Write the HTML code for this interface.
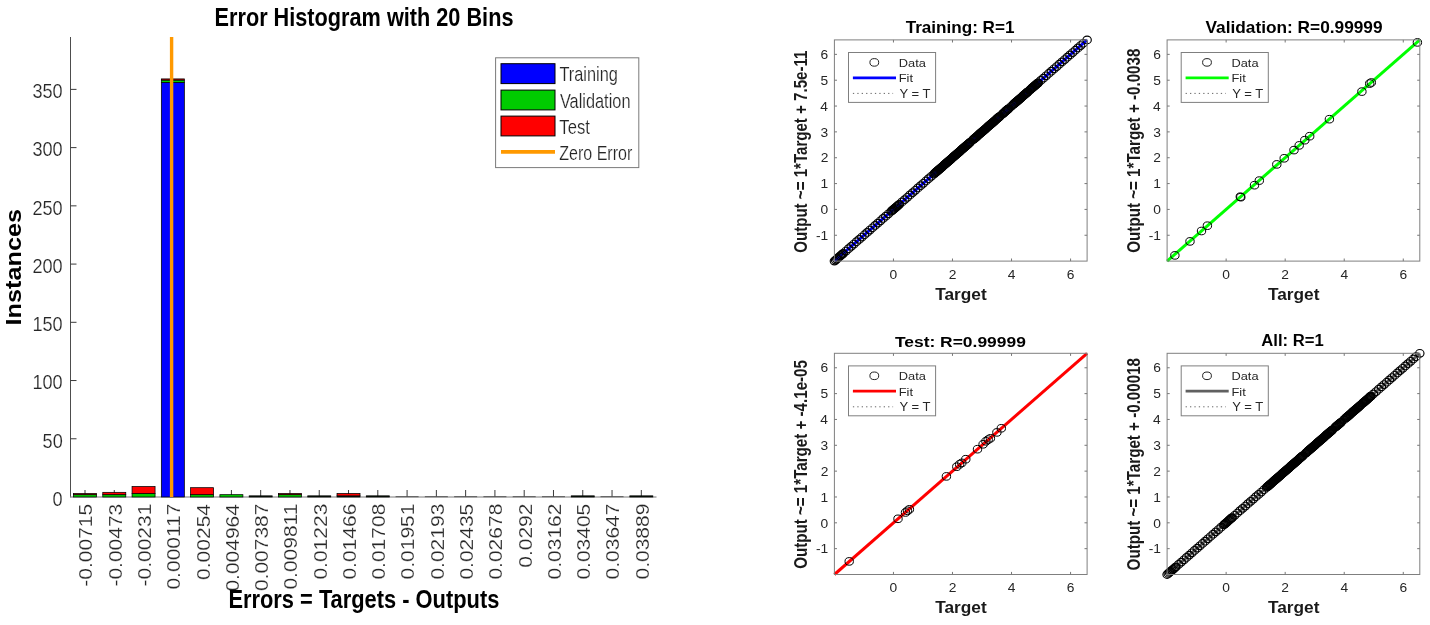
<!DOCTYPE html>
<html><head><meta charset="utf-8"><style>
html,body{margin:0;padding:0;background:#fff;}
svg{display:block;will-change:transform;}
text{font-family:"Liberation Sans", sans-serif;}
</style></head><body>
<svg width="1430" height="625" viewBox="0 0 1430 625">
<rect width="1430" height="625" fill="#fff"/>
<line x1="70.5" y1="37" x2="70.5" y2="497.5" stroke="#4d4d4d" stroke-width="1"/>
<line x1="70.5" y1="497" x2="656.5" y2="497" stroke="#a6a6a6" stroke-width="1.6"/>
<line x1="70.5" y1="438.77" x2="76.5" y2="438.77" stroke="#3a3a3a" stroke-width="1"/>
<line x1="70.5" y1="380.54" x2="76.5" y2="380.54" stroke="#3a3a3a" stroke-width="1"/>
<line x1="70.5" y1="322.31" x2="76.5" y2="322.31" stroke="#3a3a3a" stroke-width="1"/>
<line x1="70.5" y1="264.08" x2="76.5" y2="264.08" stroke="#3a3a3a" stroke-width="1"/>
<line x1="70.5" y1="205.85" x2="76.5" y2="205.85" stroke="#3a3a3a" stroke-width="1"/>
<line x1="70.5" y1="147.62" x2="76.5" y2="147.62" stroke="#3a3a3a" stroke-width="1"/>
<line x1="70.5" y1="89.39" x2="76.5" y2="89.39" stroke="#3a3a3a" stroke-width="1"/>
<line x1="85" y1="497" x2="85" y2="490" stroke="#3a3a3a" stroke-width="1"/>
<line x1="114.28" y1="497" x2="114.28" y2="490" stroke="#3a3a3a" stroke-width="1"/>
<line x1="143.56" y1="497" x2="143.56" y2="490" stroke="#3a3a3a" stroke-width="1"/>
<line x1="172.84" y1="497" x2="172.84" y2="490" stroke="#3a3a3a" stroke-width="1"/>
<line x1="202.12" y1="497" x2="202.12" y2="490" stroke="#3a3a3a" stroke-width="1"/>
<line x1="231.4" y1="497" x2="231.4" y2="490" stroke="#3a3a3a" stroke-width="1"/>
<line x1="260.68" y1="497" x2="260.68" y2="490" stroke="#3a3a3a" stroke-width="1"/>
<line x1="289.96" y1="497" x2="289.96" y2="490" stroke="#3a3a3a" stroke-width="1"/>
<line x1="319.24" y1="497" x2="319.24" y2="490" stroke="#3a3a3a" stroke-width="1"/>
<line x1="348.52" y1="497" x2="348.52" y2="490" stroke="#3a3a3a" stroke-width="1"/>
<line x1="377.8" y1="497" x2="377.8" y2="490" stroke="#3a3a3a" stroke-width="1"/>
<line x1="407.08" y1="497" x2="407.08" y2="490" stroke="#3a3a3a" stroke-width="1"/>
<line x1="436.36" y1="497" x2="436.36" y2="490" stroke="#3a3a3a" stroke-width="1"/>
<line x1="465.64" y1="497" x2="465.64" y2="490" stroke="#3a3a3a" stroke-width="1"/>
<line x1="494.92" y1="497" x2="494.92" y2="490" stroke="#3a3a3a" stroke-width="1"/>
<line x1="524.2" y1="497" x2="524.2" y2="490" stroke="#3a3a3a" stroke-width="1"/>
<line x1="553.48" y1="497" x2="553.48" y2="490" stroke="#3a3a3a" stroke-width="1"/>
<line x1="582.76" y1="497" x2="582.76" y2="490" stroke="#3a3a3a" stroke-width="1"/>
<line x1="612.04" y1="497" x2="612.04" y2="490" stroke="#3a3a3a" stroke-width="1"/>
<line x1="641.32" y1="497" x2="641.32" y2="490" stroke="#3a3a3a" stroke-width="1"/>
<rect x="73.5" y="494.67" width="23" height="2.33" fill="#00cc00" stroke="#000" stroke-width="0.75"/>
<rect x="73.5" y="493.51" width="23" height="1.16" fill="#ff0000" stroke="#000" stroke-width="0.75"/>
<rect x="102.78" y="494.67" width="23" height="2.33" fill="#00cc00" stroke="#000" stroke-width="0.75"/>
<rect x="102.78" y="492.34" width="23" height="2.33" fill="#ff0000" stroke="#000" stroke-width="0.75"/>
<rect x="132.06" y="493.51" width="23" height="3.49" fill="#00cc00" stroke="#000" stroke-width="0.75"/>
<rect x="132.06" y="486.52" width="23" height="6.99" fill="#ff0000" stroke="#000" stroke-width="0.75"/>
<rect x="161.34" y="82.4" width="23" height="414.6" fill="#0000ff" stroke="#000" stroke-width="0.75"/>
<rect x="161.34" y="80.07" width="23" height="2.33" fill="#00cc00" stroke="#000" stroke-width="0.75"/>
<rect x="161.34" y="78.91" width="23" height="1.16" fill="#ff0000" stroke="#000" stroke-width="0.75"/>
<rect x="190.62" y="494.67" width="23" height="2.33" fill="#00cc00" stroke="#000" stroke-width="0.75"/>
<rect x="190.62" y="487.68" width="23" height="6.99" fill="#ff0000" stroke="#000" stroke-width="0.75"/>
<rect x="219.9" y="494.67" width="23" height="2.33" fill="#00cc00" stroke="#000" stroke-width="0.75"/>
<rect x="249.18" y="495.84" width="23" height="1.16" fill="#0b1f0b" stroke="#000" stroke-width="0.75"/>
<rect x="278.46" y="494.67" width="23" height="2.33" fill="#00cc00" stroke="#000" stroke-width="0.75"/>
<rect x="278.46" y="493.51" width="23" height="1.16" fill="#ff0000" stroke="#000" stroke-width="0.75"/>
<rect x="307.74" y="495.84" width="23" height="1.16" fill="#0b1f0b" stroke="#000" stroke-width="0.75"/>
<rect x="337.02" y="495.84" width="23" height="1.16" fill="#0b1f0b" stroke="#000" stroke-width="0.75"/>
<rect x="337.02" y="493.51" width="23" height="2.33" fill="#ff0000" stroke="#000" stroke-width="0.75"/>
<rect x="366.3" y="495.84" width="23" height="1.16" fill="#0b1f0b" stroke="#000" stroke-width="0.75"/>
<line x1="395.58" y1="496.7" x2="418.58" y2="496.7" stroke="#555" stroke-width="1"/>
<line x1="424.86" y1="496.7" x2="447.86" y2="496.7" stroke="#555" stroke-width="1"/>
<line x1="454.14" y1="496.7" x2="477.14" y2="496.7" stroke="#555" stroke-width="1"/>
<line x1="483.42" y1="496.7" x2="506.42" y2="496.7" stroke="#555" stroke-width="1"/>
<line x1="512.7" y1="496.7" x2="535.7" y2="496.7" stroke="#555" stroke-width="1"/>
<line x1="541.98" y1="496.7" x2="564.98" y2="496.7" stroke="#555" stroke-width="1"/>
<rect x="571.26" y="495.84" width="23" height="1.16" fill="#0b1f0b" stroke="#000" stroke-width="0.75"/>
<line x1="600.54" y1="496.7" x2="623.54" y2="496.7" stroke="#555" stroke-width="1"/>
<rect x="629.82" y="495.84" width="23" height="1.16" fill="#0b1f0b" stroke="#000" stroke-width="0.75"/>
<line x1="171.6" y1="37" x2="171.6" y2="497" stroke="#ff9900" stroke-width="3.4"/>
<text transform="translate(52.62,505.78) scale(0.88,1)" font-size="20.6" font-weight="normal" fill="#262626" stroke="#fff" stroke-width="0.2">0</text>
<text transform="translate(42.56,447.55) scale(0.88,1)" font-size="20.6" font-weight="normal" fill="#262626" stroke="#fff" stroke-width="0.2">50</text>
<text transform="translate(32.45,389.32) scale(0.88,1)" font-size="20.6" font-weight="normal" fill="#262626" stroke="#fff" stroke-width="0.2">100</text>
<text transform="translate(32.45,331.09) scale(0.88,1)" font-size="20.6" font-weight="normal" fill="#262626" stroke="#fff" stroke-width="0.2">150</text>
<text transform="translate(32.45,272.86) scale(0.88,1)" font-size="20.6" font-weight="normal" fill="#262626" stroke="#fff" stroke-width="0.2">200</text>
<text transform="translate(32.45,214.63) scale(0.88,1)" font-size="20.6" font-weight="normal" fill="#262626" stroke="#fff" stroke-width="0.2">250</text>
<text transform="translate(32.45,156.4) scale(0.88,1)" font-size="20.6" font-weight="normal" fill="#262626" stroke="#fff" stroke-width="0.2">300</text>
<text transform="translate(32.45,98.17) scale(0.88,1)" font-size="20.6" font-weight="normal" fill="#262626" stroke="#fff" stroke-width="0.2">350</text>
<text transform="translate(92.4,586.66) rotate(-90) scale(1,0.87)" font-size="21" font-weight="normal" fill="#262626" stroke="#fff" stroke-width="0.23">-0.00715</text>
<text transform="translate(121.68,586.61) rotate(-90) scale(1,0.87)" font-size="21" font-weight="normal" fill="#262626" stroke="#fff" stroke-width="0.23">-0.00473</text>
<text transform="translate(150.96,586.5) rotate(-90) scale(1,0.87)" font-size="21" font-weight="normal" fill="#262626" stroke="#fff" stroke-width="0.23">-0.00231</text>
<text transform="translate(180.24,589.55) rotate(-90) scale(1,0.87)" font-size="21" font-weight="normal" fill="#262626" stroke="#fff" stroke-width="0.23">0.000117</text>
<text transform="translate(209.52,579.88) rotate(-90) scale(1,0.87)" font-size="21" font-weight="normal" fill="#262626" stroke="#fff" stroke-width="0.23">0.00254</text>
<text transform="translate(238.8,591.59) rotate(-90) scale(1,0.87)" font-size="21" font-weight="normal" fill="#262626" stroke="#fff" stroke-width="0.23">0.004964</text>
<text transform="translate(268.08,591.12) rotate(-90) scale(1,0.87)" font-size="21" font-weight="normal" fill="#262626" stroke="#fff" stroke-width="0.23">0.007387</text>
<text transform="translate(297.36,589.6) rotate(-90) scale(1,0.87)" font-size="21" font-weight="normal" fill="#262626" stroke="#fff" stroke-width="0.23">0.009811</text>
<text transform="translate(326.64,579.57) rotate(-90) scale(1,0.87)" font-size="21" font-weight="normal" fill="#262626" stroke="#fff" stroke-width="0.23">0.01223</text>
<text transform="translate(355.92,579.57) rotate(-90) scale(1,0.87)" font-size="21" font-weight="normal" fill="#262626" stroke="#fff" stroke-width="0.23">0.01466</text>
<text transform="translate(385.2,579.57) rotate(-90) scale(1,0.87)" font-size="21" font-weight="normal" fill="#262626" stroke="#fff" stroke-width="0.23">0.01708</text>
<text transform="translate(414.48,579.47) rotate(-90) scale(1,0.87)" font-size="21" font-weight="normal" fill="#262626" stroke="#fff" stroke-width="0.23">0.01951</text>
<text transform="translate(443.76,579.57) rotate(-90) scale(1,0.87)" font-size="21" font-weight="normal" fill="#262626" stroke="#fff" stroke-width="0.23">0.02193</text>
<text transform="translate(473.04,579.62) rotate(-90) scale(1,0.87)" font-size="21" font-weight="normal" fill="#262626" stroke="#fff" stroke-width="0.23">0.02435</text>
<text transform="translate(502.32,579.57) rotate(-90) scale(1,0.87)" font-size="21" font-weight="normal" fill="#262626" stroke="#fff" stroke-width="0.23">0.02678</text>
<text transform="translate(531.6,567.76) rotate(-90) scale(1,0.87)" font-size="21" font-weight="normal" fill="#262626" stroke="#fff" stroke-width="0.23">0.0292</text>
<text transform="translate(560.88,579.41) rotate(-90) scale(1,0.87)" font-size="21" font-weight="normal" fill="#262626" stroke="#fff" stroke-width="0.23">0.03162</text>
<text transform="translate(590.16,579.62) rotate(-90) scale(1,0.87)" font-size="21" font-weight="normal" fill="#262626" stroke="#fff" stroke-width="0.23">0.03405</text>
<text transform="translate(619.44,579.41) rotate(-90) scale(1,0.87)" font-size="21" font-weight="normal" fill="#262626" stroke="#fff" stroke-width="0.23">0.03647</text>
<text transform="translate(648.72,579.52) rotate(-90) scale(1,0.87)" font-size="21" font-weight="normal" fill="#262626" stroke="#fff" stroke-width="0.23">0.03889</text>
<text transform="translate(214.54,26.2) scale(0.82,1)" font-size="26.47" font-weight="bold" fill="#000">Error Histogram with 20 Bins</text>
<text transform="translate(228.43,608) scale(0.83,1)" font-size="26.33" font-weight="bold" fill="#000">Errors = Targets - Outputs</text>
<text transform="translate(21.4,325.51) rotate(-90) scale(1,0.89)" font-size="25.28" font-weight="bold" fill="#000">Instances</text>
<rect x="495.6" y="57.8" width="143.2" height="109.8" fill="#fff" stroke="#7a7a7a" stroke-width="1"/>
<rect x="501" y="63.7" width="54" height="19.9" fill="#0000ff" stroke="#000" stroke-width="1"/>
<rect x="501" y="90.1" width="54" height="19.8" fill="#00cc00" stroke="#000" stroke-width="1"/>
<rect x="501" y="116.1" width="54" height="19.8" fill="#ff0000" stroke="#000" stroke-width="1"/>
<line x1="501" y1="151.9" x2="555" y2="151.9" stroke="#ff9900" stroke-width="3.6"/>
<text transform="translate(559.43,81.4) scale(0.84,1)" font-size="19.49" font-weight="normal" fill="#262626" stroke="#fff" stroke-width="0.2">Training</text>
<text transform="translate(559.92,107.6) scale(0.82,1)" font-size="19.93" font-weight="normal" fill="#262626" stroke="#fff" stroke-width="0.2">Validation</text>
<text transform="translate(559.32,133.9) scale(0.83,1)" font-size="20.07" font-weight="normal" fill="#262626" stroke="#fff" stroke-width="0.2">Test</text>
<text transform="translate(559.18,159.7) scale(0.83,1)" font-size="19.35" font-weight="normal" fill="#262626" stroke="#fff" stroke-width="0.2">Zero Error</text>
<g>
<line x1="834.4" y1="261.1" x2="1087.1" y2="39.9" stroke="#0000ff" stroke-width="3" stroke-linecap="butt"/>
<ellipse cx="834.4" cy="261.1" rx="4.2" ry="3.8" fill="none" stroke="#000" stroke-width="1.15"/>
<ellipse cx="835.58" cy="260.07" rx="4.2" ry="3.8" fill="none" stroke="#000" stroke-width="1.15"/>
<ellipse cx="836.76" cy="259.03" rx="4.2" ry="3.8" fill="none" stroke="#000" stroke-width="1.15"/>
<ellipse cx="837.94" cy="258" rx="4.2" ry="3.8" fill="none" stroke="#000" stroke-width="1.15"/>
<ellipse cx="839.12" cy="256.97" rx="4.2" ry="3.8" fill="none" stroke="#000" stroke-width="1.15"/>
<ellipse cx="840.3" cy="255.93" rx="4.2" ry="3.8" fill="none" stroke="#000" stroke-width="1.15"/>
<ellipse cx="841.49" cy="254.9" rx="4.2" ry="3.8" fill="none" stroke="#000" stroke-width="1.15"/>
<ellipse cx="842.67" cy="253.86" rx="4.2" ry="3.8" fill="none" stroke="#000" stroke-width="1.15"/>
<ellipse cx="843.26" cy="253.35" rx="4.2" ry="3.8" fill="none" stroke="#000" stroke-width="1.15"/>
<ellipse cx="845.91" cy="251.02" rx="4.2" ry="3.8" fill="none" stroke="#000" stroke-width="1.15"/>
<ellipse cx="848.57" cy="248.7" rx="4.2" ry="3.8" fill="none" stroke="#000" stroke-width="1.15"/>
<ellipse cx="851.23" cy="246.37" rx="4.2" ry="3.8" fill="none" stroke="#000" stroke-width="1.15"/>
<ellipse cx="853.88" cy="244.04" rx="4.2" ry="3.8" fill="none" stroke="#000" stroke-width="1.15"/>
<ellipse cx="856.54" cy="241.72" rx="4.2" ry="3.8" fill="none" stroke="#000" stroke-width="1.15"/>
<ellipse cx="859.2" cy="239.39" rx="4.2" ry="3.8" fill="none" stroke="#000" stroke-width="1.15"/>
<ellipse cx="861.85" cy="237.07" rx="4.2" ry="3.8" fill="none" stroke="#000" stroke-width="1.15"/>
<ellipse cx="864.51" cy="234.74" rx="4.2" ry="3.8" fill="none" stroke="#000" stroke-width="1.15"/>
<ellipse cx="867.17" cy="232.42" rx="4.2" ry="3.8" fill="none" stroke="#000" stroke-width="1.15"/>
<ellipse cx="869.83" cy="230.09" rx="4.2" ry="3.8" fill="none" stroke="#000" stroke-width="1.15"/>
<ellipse cx="872.48" cy="227.76" rx="4.2" ry="3.8" fill="none" stroke="#000" stroke-width="1.15"/>
<ellipse cx="875.14" cy="225.44" rx="4.2" ry="3.8" fill="none" stroke="#000" stroke-width="1.15"/>
<ellipse cx="877.8" cy="223.11" rx="4.2" ry="3.8" fill="none" stroke="#000" stroke-width="1.15"/>
<ellipse cx="880.45" cy="220.79" rx="4.2" ry="3.8" fill="none" stroke="#000" stroke-width="1.15"/>
<ellipse cx="883.11" cy="218.46" rx="4.2" ry="3.8" fill="none" stroke="#000" stroke-width="1.15"/>
<ellipse cx="885.77" cy="216.14" rx="4.2" ry="3.8" fill="none" stroke="#000" stroke-width="1.15"/>
<ellipse cx="888.42" cy="213.81" rx="4.2" ry="3.8" fill="none" stroke="#000" stroke-width="1.15"/>
<ellipse cx="891.08" cy="211.49" rx="4.2" ry="3.8" fill="none" stroke="#000" stroke-width="1.15"/>
<ellipse cx="891.97" cy="210.71" rx="4.2" ry="3.8" fill="none" stroke="#000" stroke-width="1.15"/>
<ellipse cx="892.85" cy="209.93" rx="4.2" ry="3.8" fill="none" stroke="#000" stroke-width="1.15"/>
<ellipse cx="893.74" cy="209.16" rx="4.2" ry="3.8" fill="none" stroke="#000" stroke-width="1.15"/>
<ellipse cx="894.62" cy="208.38" rx="4.2" ry="3.8" fill="none" stroke="#000" stroke-width="1.15"/>
<ellipse cx="895.51" cy="207.61" rx="4.2" ry="3.8" fill="none" stroke="#000" stroke-width="1.15"/>
<ellipse cx="896.39" cy="206.83" rx="4.2" ry="3.8" fill="none" stroke="#000" stroke-width="1.15"/>
<ellipse cx="897.28" cy="206.06" rx="4.2" ry="3.8" fill="none" stroke="#000" stroke-width="1.15"/>
<ellipse cx="898.17" cy="205.28" rx="4.2" ry="3.8" fill="none" stroke="#000" stroke-width="1.15"/>
<ellipse cx="899.05" cy="204.51" rx="4.2" ry="3.8" fill="none" stroke="#000" stroke-width="1.15"/>
<ellipse cx="899.35" cy="204.25" rx="4.2" ry="3.8" fill="none" stroke="#000" stroke-width="1.15"/>
<ellipse cx="902" cy="201.92" rx="4.2" ry="3.8" fill="none" stroke="#000" stroke-width="1.15"/>
<ellipse cx="904.66" cy="199.6" rx="4.2" ry="3.8" fill="none" stroke="#000" stroke-width="1.15"/>
<ellipse cx="907.32" cy="197.27" rx="4.2" ry="3.8" fill="none" stroke="#000" stroke-width="1.15"/>
<ellipse cx="909.97" cy="194.95" rx="4.2" ry="3.8" fill="none" stroke="#000" stroke-width="1.15"/>
<ellipse cx="912.63" cy="192.62" rx="4.2" ry="3.8" fill="none" stroke="#000" stroke-width="1.15"/>
<ellipse cx="915.29" cy="190.3" rx="4.2" ry="3.8" fill="none" stroke="#000" stroke-width="1.15"/>
<ellipse cx="917.94" cy="187.97" rx="4.2" ry="3.8" fill="none" stroke="#000" stroke-width="1.15"/>
<ellipse cx="920.6" cy="185.64" rx="4.2" ry="3.8" fill="none" stroke="#000" stroke-width="1.15"/>
<ellipse cx="923.26" cy="183.32" rx="4.2" ry="3.8" fill="none" stroke="#000" stroke-width="1.15"/>
<ellipse cx="925.92" cy="180.99" rx="4.2" ry="3.8" fill="none" stroke="#000" stroke-width="1.15"/>
<ellipse cx="928.57" cy="178.67" rx="4.2" ry="3.8" fill="none" stroke="#000" stroke-width="1.15"/>
<ellipse cx="931.23" cy="176.34" rx="4.2" ry="3.8" fill="none" stroke="#000" stroke-width="1.15"/>
<ellipse cx="933.89" cy="174.02" rx="4.2" ry="3.8" fill="none" stroke="#000" stroke-width="1.15"/>
<ellipse cx="934.77" cy="173.24" rx="4.2" ry="3.8" fill="none" stroke="#000" stroke-width="1.15"/>
<ellipse cx="935.36" cy="172.72" rx="4.2" ry="3.8" fill="none" stroke="#000" stroke-width="1.15"/>
<ellipse cx="935.95" cy="172.21" rx="4.2" ry="3.8" fill="none" stroke="#000" stroke-width="1.15"/>
<ellipse cx="936.54" cy="171.69" rx="4.2" ry="3.8" fill="none" stroke="#000" stroke-width="1.15"/>
<ellipse cx="937.13" cy="171.17" rx="4.2" ry="3.8" fill="none" stroke="#000" stroke-width="1.15"/>
<ellipse cx="937.72" cy="170.66" rx="4.2" ry="3.8" fill="none" stroke="#000" stroke-width="1.15"/>
<ellipse cx="938.31" cy="170.14" rx="4.2" ry="3.8" fill="none" stroke="#000" stroke-width="1.15"/>
<ellipse cx="938.9" cy="169.62" rx="4.2" ry="3.8" fill="none" stroke="#000" stroke-width="1.15"/>
<ellipse cx="939.49" cy="169.11" rx="4.2" ry="3.8" fill="none" stroke="#000" stroke-width="1.15"/>
<ellipse cx="940.09" cy="168.59" rx="4.2" ry="3.8" fill="none" stroke="#000" stroke-width="1.15"/>
<ellipse cx="940.68" cy="168.07" rx="4.2" ry="3.8" fill="none" stroke="#000" stroke-width="1.15"/>
<ellipse cx="941.27" cy="167.56" rx="4.2" ry="3.8" fill="none" stroke="#000" stroke-width="1.15"/>
<ellipse cx="941.86" cy="167.04" rx="4.2" ry="3.8" fill="none" stroke="#000" stroke-width="1.15"/>
<ellipse cx="942.45" cy="166.52" rx="4.2" ry="3.8" fill="none" stroke="#000" stroke-width="1.15"/>
<ellipse cx="943.04" cy="166" rx="4.2" ry="3.8" fill="none" stroke="#000" stroke-width="1.15"/>
<ellipse cx="943.63" cy="165.49" rx="4.2" ry="3.8" fill="none" stroke="#000" stroke-width="1.15"/>
<ellipse cx="944.22" cy="164.97" rx="4.2" ry="3.8" fill="none" stroke="#000" stroke-width="1.15"/>
<ellipse cx="944.81" cy="164.45" rx="4.2" ry="3.8" fill="none" stroke="#000" stroke-width="1.15"/>
<ellipse cx="945.4" cy="163.94" rx="4.2" ry="3.8" fill="none" stroke="#000" stroke-width="1.15"/>
<ellipse cx="945.99" cy="163.42" rx="4.2" ry="3.8" fill="none" stroke="#000" stroke-width="1.15"/>
<ellipse cx="946.58" cy="162.9" rx="4.2" ry="3.8" fill="none" stroke="#000" stroke-width="1.15"/>
<ellipse cx="947.17" cy="162.39" rx="4.2" ry="3.8" fill="none" stroke="#000" stroke-width="1.15"/>
<ellipse cx="947.76" cy="161.87" rx="4.2" ry="3.8" fill="none" stroke="#000" stroke-width="1.15"/>
<ellipse cx="948.35" cy="161.35" rx="4.2" ry="3.8" fill="none" stroke="#000" stroke-width="1.15"/>
<ellipse cx="948.94" cy="160.84" rx="4.2" ry="3.8" fill="none" stroke="#000" stroke-width="1.15"/>
<ellipse cx="949.53" cy="160.32" rx="4.2" ry="3.8" fill="none" stroke="#000" stroke-width="1.15"/>
<ellipse cx="950.12" cy="159.8" rx="4.2" ry="3.8" fill="none" stroke="#000" stroke-width="1.15"/>
<ellipse cx="950.71" cy="159.29" rx="4.2" ry="3.8" fill="none" stroke="#000" stroke-width="1.15"/>
<ellipse cx="951.3" cy="158.77" rx="4.2" ry="3.8" fill="none" stroke="#000" stroke-width="1.15"/>
<ellipse cx="951.89" cy="158.25" rx="4.2" ry="3.8" fill="none" stroke="#000" stroke-width="1.15"/>
<ellipse cx="952.48" cy="157.74" rx="4.2" ry="3.8" fill="none" stroke="#000" stroke-width="1.15"/>
<ellipse cx="953.07" cy="157.22" rx="4.2" ry="3.8" fill="none" stroke="#000" stroke-width="1.15"/>
<ellipse cx="953.66" cy="156.7" rx="4.2" ry="3.8" fill="none" stroke="#000" stroke-width="1.15"/>
<ellipse cx="954.26" cy="156.19" rx="4.2" ry="3.8" fill="none" stroke="#000" stroke-width="1.15"/>
<ellipse cx="954.85" cy="155.67" rx="4.2" ry="3.8" fill="none" stroke="#000" stroke-width="1.15"/>
<ellipse cx="955.44" cy="155.15" rx="4.2" ry="3.8" fill="none" stroke="#000" stroke-width="1.15"/>
<ellipse cx="956.03" cy="154.63" rx="4.2" ry="3.8" fill="none" stroke="#000" stroke-width="1.15"/>
<ellipse cx="956.62" cy="154.12" rx="4.2" ry="3.8" fill="none" stroke="#000" stroke-width="1.15"/>
<ellipse cx="957.21" cy="153.6" rx="4.2" ry="3.8" fill="none" stroke="#000" stroke-width="1.15"/>
<ellipse cx="957.8" cy="153.08" rx="4.2" ry="3.8" fill="none" stroke="#000" stroke-width="1.15"/>
<ellipse cx="958.39" cy="152.57" rx="4.2" ry="3.8" fill="none" stroke="#000" stroke-width="1.15"/>
<ellipse cx="958.98" cy="152.05" rx="4.2" ry="3.8" fill="none" stroke="#000" stroke-width="1.15"/>
<ellipse cx="959.57" cy="151.53" rx="4.2" ry="3.8" fill="none" stroke="#000" stroke-width="1.15"/>
<ellipse cx="960.16" cy="151.02" rx="4.2" ry="3.8" fill="none" stroke="#000" stroke-width="1.15"/>
<ellipse cx="960.75" cy="150.5" rx="4.2" ry="3.8" fill="none" stroke="#000" stroke-width="1.15"/>
<ellipse cx="961.34" cy="149.98" rx="4.2" ry="3.8" fill="none" stroke="#000" stroke-width="1.15"/>
<ellipse cx="961.93" cy="149.47" rx="4.2" ry="3.8" fill="none" stroke="#000" stroke-width="1.15"/>
<ellipse cx="962.52" cy="148.95" rx="4.2" ry="3.8" fill="none" stroke="#000" stroke-width="1.15"/>
<ellipse cx="963.11" cy="148.43" rx="4.2" ry="3.8" fill="none" stroke="#000" stroke-width="1.15"/>
<ellipse cx="963.7" cy="147.92" rx="4.2" ry="3.8" fill="none" stroke="#000" stroke-width="1.15"/>
<ellipse cx="964.29" cy="147.4" rx="4.2" ry="3.8" fill="none" stroke="#000" stroke-width="1.15"/>
<ellipse cx="964.88" cy="146.88" rx="4.2" ry="3.8" fill="none" stroke="#000" stroke-width="1.15"/>
<ellipse cx="965.47" cy="146.37" rx="4.2" ry="3.8" fill="none" stroke="#000" stroke-width="1.15"/>
<ellipse cx="966.06" cy="145.85" rx="4.2" ry="3.8" fill="none" stroke="#000" stroke-width="1.15"/>
<ellipse cx="966.65" cy="145.33" rx="4.2" ry="3.8" fill="none" stroke="#000" stroke-width="1.15"/>
<ellipse cx="967.24" cy="144.81" rx="4.2" ry="3.8" fill="none" stroke="#000" stroke-width="1.15"/>
<ellipse cx="967.84" cy="144.3" rx="4.2" ry="3.8" fill="none" stroke="#000" stroke-width="1.15"/>
<ellipse cx="968.43" cy="143.78" rx="4.2" ry="3.8" fill="none" stroke="#000" stroke-width="1.15"/>
<ellipse cx="969.02" cy="143.26" rx="4.2" ry="3.8" fill="none" stroke="#000" stroke-width="1.15"/>
<ellipse cx="969.61" cy="142.75" rx="4.2" ry="3.8" fill="none" stroke="#000" stroke-width="1.15"/>
<ellipse cx="970.2" cy="142.23" rx="4.2" ry="3.8" fill="none" stroke="#000" stroke-width="1.15"/>
<ellipse cx="972.85" cy="139.91" rx="4.2" ry="3.8" fill="none" stroke="#000" stroke-width="1.15"/>
<ellipse cx="973.74" cy="139.13" rx="4.2" ry="3.8" fill="none" stroke="#000" stroke-width="1.15"/>
<ellipse cx="974.33" cy="138.61" rx="4.2" ry="3.8" fill="none" stroke="#000" stroke-width="1.15"/>
<ellipse cx="974.92" cy="138.1" rx="4.2" ry="3.8" fill="none" stroke="#000" stroke-width="1.15"/>
<ellipse cx="975.51" cy="137.58" rx="4.2" ry="3.8" fill="none" stroke="#000" stroke-width="1.15"/>
<ellipse cx="976.1" cy="137.06" rx="4.2" ry="3.8" fill="none" stroke="#000" stroke-width="1.15"/>
<ellipse cx="976.69" cy="136.55" rx="4.2" ry="3.8" fill="none" stroke="#000" stroke-width="1.15"/>
<ellipse cx="977.28" cy="136.03" rx="4.2" ry="3.8" fill="none" stroke="#000" stroke-width="1.15"/>
<ellipse cx="977.87" cy="135.51" rx="4.2" ry="3.8" fill="none" stroke="#000" stroke-width="1.15"/>
<ellipse cx="978.46" cy="135" rx="4.2" ry="3.8" fill="none" stroke="#000" stroke-width="1.15"/>
<ellipse cx="979.05" cy="134.48" rx="4.2" ry="3.8" fill="none" stroke="#000" stroke-width="1.15"/>
<ellipse cx="979.64" cy="133.96" rx="4.2" ry="3.8" fill="none" stroke="#000" stroke-width="1.15"/>
<ellipse cx="980.23" cy="133.44" rx="4.2" ry="3.8" fill="none" stroke="#000" stroke-width="1.15"/>
<ellipse cx="980.82" cy="132.93" rx="4.2" ry="3.8" fill="none" stroke="#000" stroke-width="1.15"/>
<ellipse cx="981.41" cy="132.41" rx="4.2" ry="3.8" fill="none" stroke="#000" stroke-width="1.15"/>
<ellipse cx="982.01" cy="131.89" rx="4.2" ry="3.8" fill="none" stroke="#000" stroke-width="1.15"/>
<ellipse cx="982.6" cy="131.38" rx="4.2" ry="3.8" fill="none" stroke="#000" stroke-width="1.15"/>
<ellipse cx="983.19" cy="130.86" rx="4.2" ry="3.8" fill="none" stroke="#000" stroke-width="1.15"/>
<ellipse cx="983.78" cy="130.34" rx="4.2" ry="3.8" fill="none" stroke="#000" stroke-width="1.15"/>
<ellipse cx="984.37" cy="129.83" rx="4.2" ry="3.8" fill="none" stroke="#000" stroke-width="1.15"/>
<ellipse cx="984.96" cy="129.31" rx="4.2" ry="3.8" fill="none" stroke="#000" stroke-width="1.15"/>
<ellipse cx="985.55" cy="128.79" rx="4.2" ry="3.8" fill="none" stroke="#000" stroke-width="1.15"/>
<ellipse cx="986.14" cy="128.28" rx="4.2" ry="3.8" fill="none" stroke="#000" stroke-width="1.15"/>
<ellipse cx="986.73" cy="127.76" rx="4.2" ry="3.8" fill="none" stroke="#000" stroke-width="1.15"/>
<ellipse cx="987.32" cy="127.24" rx="4.2" ry="3.8" fill="none" stroke="#000" stroke-width="1.15"/>
<ellipse cx="987.91" cy="126.73" rx="4.2" ry="3.8" fill="none" stroke="#000" stroke-width="1.15"/>
<ellipse cx="988.5" cy="126.21" rx="4.2" ry="3.8" fill="none" stroke="#000" stroke-width="1.15"/>
<ellipse cx="989.09" cy="125.69" rx="4.2" ry="3.8" fill="none" stroke="#000" stroke-width="1.15"/>
<ellipse cx="989.68" cy="125.18" rx="4.2" ry="3.8" fill="none" stroke="#000" stroke-width="1.15"/>
<ellipse cx="990.27" cy="124.66" rx="4.2" ry="3.8" fill="none" stroke="#000" stroke-width="1.15"/>
<ellipse cx="990.86" cy="124.14" rx="4.2" ry="3.8" fill="none" stroke="#000" stroke-width="1.15"/>
<ellipse cx="991.45" cy="123.63" rx="4.2" ry="3.8" fill="none" stroke="#000" stroke-width="1.15"/>
<ellipse cx="992.04" cy="123.11" rx="4.2" ry="3.8" fill="none" stroke="#000" stroke-width="1.15"/>
<ellipse cx="992.63" cy="122.59" rx="4.2" ry="3.8" fill="none" stroke="#000" stroke-width="1.15"/>
<ellipse cx="993.22" cy="122.07" rx="4.2" ry="3.8" fill="none" stroke="#000" stroke-width="1.15"/>
<ellipse cx="993.81" cy="121.56" rx="4.2" ry="3.8" fill="none" stroke="#000" stroke-width="1.15"/>
<ellipse cx="994.4" cy="121.04" rx="4.2" ry="3.8" fill="none" stroke="#000" stroke-width="1.15"/>
<ellipse cx="994.99" cy="120.52" rx="4.2" ry="3.8" fill="none" stroke="#000" stroke-width="1.15"/>
<ellipse cx="995.58" cy="120.01" rx="4.2" ry="3.8" fill="none" stroke="#000" stroke-width="1.15"/>
<ellipse cx="996.18" cy="119.49" rx="4.2" ry="3.8" fill="none" stroke="#000" stroke-width="1.15"/>
<ellipse cx="996.77" cy="118.97" rx="4.2" ry="3.8" fill="none" stroke="#000" stroke-width="1.15"/>
<ellipse cx="997.36" cy="118.46" rx="4.2" ry="3.8" fill="none" stroke="#000" stroke-width="1.15"/>
<ellipse cx="997.95" cy="117.94" rx="4.2" ry="3.8" fill="none" stroke="#000" stroke-width="1.15"/>
<ellipse cx="998.54" cy="117.42" rx="4.2" ry="3.8" fill="none" stroke="#000" stroke-width="1.15"/>
<ellipse cx="999.13" cy="116.91" rx="4.2" ry="3.8" fill="none" stroke="#000" stroke-width="1.15"/>
<ellipse cx="999.72" cy="116.39" rx="4.2" ry="3.8" fill="none" stroke="#000" stroke-width="1.15"/>
<ellipse cx="1002.37" cy="114.06" rx="4.2" ry="3.8" fill="none" stroke="#000" stroke-width="1.15"/>
<ellipse cx="1003.26" cy="113.29" rx="4.2" ry="3.8" fill="none" stroke="#000" stroke-width="1.15"/>
<ellipse cx="1003.85" cy="112.77" rx="4.2" ry="3.8" fill="none" stroke="#000" stroke-width="1.15"/>
<ellipse cx="1004.44" cy="112.26" rx="4.2" ry="3.8" fill="none" stroke="#000" stroke-width="1.15"/>
<ellipse cx="1005.03" cy="111.74" rx="4.2" ry="3.8" fill="none" stroke="#000" stroke-width="1.15"/>
<ellipse cx="1005.62" cy="111.22" rx="4.2" ry="3.8" fill="none" stroke="#000" stroke-width="1.15"/>
<ellipse cx="1006.21" cy="110.7" rx="4.2" ry="3.8" fill="none" stroke="#000" stroke-width="1.15"/>
<ellipse cx="1006.8" cy="110.19" rx="4.2" ry="3.8" fill="none" stroke="#000" stroke-width="1.15"/>
<ellipse cx="1007.39" cy="109.67" rx="4.2" ry="3.8" fill="none" stroke="#000" stroke-width="1.15"/>
<ellipse cx="1007.98" cy="109.15" rx="4.2" ry="3.8" fill="none" stroke="#000" stroke-width="1.15"/>
<ellipse cx="1008.57" cy="108.64" rx="4.2" ry="3.8" fill="none" stroke="#000" stroke-width="1.15"/>
<ellipse cx="1011.23" cy="106.31" rx="4.2" ry="3.8" fill="none" stroke="#000" stroke-width="1.15"/>
<ellipse cx="1013" cy="104.76" rx="4.2" ry="3.8" fill="none" stroke="#000" stroke-width="1.15"/>
<ellipse cx="1013.59" cy="104.24" rx="4.2" ry="3.8" fill="none" stroke="#000" stroke-width="1.15"/>
<ellipse cx="1014.18" cy="103.73" rx="4.2" ry="3.8" fill="none" stroke="#000" stroke-width="1.15"/>
<ellipse cx="1014.77" cy="103.21" rx="4.2" ry="3.8" fill="none" stroke="#000" stroke-width="1.15"/>
<ellipse cx="1015.36" cy="102.69" rx="4.2" ry="3.8" fill="none" stroke="#000" stroke-width="1.15"/>
<ellipse cx="1015.95" cy="102.18" rx="4.2" ry="3.8" fill="none" stroke="#000" stroke-width="1.15"/>
<ellipse cx="1016.54" cy="101.66" rx="4.2" ry="3.8" fill="none" stroke="#000" stroke-width="1.15"/>
<ellipse cx="1017.14" cy="101.14" rx="4.2" ry="3.8" fill="none" stroke="#000" stroke-width="1.15"/>
<ellipse cx="1017.73" cy="100.63" rx="4.2" ry="3.8" fill="none" stroke="#000" stroke-width="1.15"/>
<ellipse cx="1018.32" cy="100.11" rx="4.2" ry="3.8" fill="none" stroke="#000" stroke-width="1.15"/>
<ellipse cx="1018.91" cy="99.59" rx="4.2" ry="3.8" fill="none" stroke="#000" stroke-width="1.15"/>
<ellipse cx="1019.5" cy="99.08" rx="4.2" ry="3.8" fill="none" stroke="#000" stroke-width="1.15"/>
<ellipse cx="1020.09" cy="98.56" rx="4.2" ry="3.8" fill="none" stroke="#000" stroke-width="1.15"/>
<ellipse cx="1020.68" cy="98.04" rx="4.2" ry="3.8" fill="none" stroke="#000" stroke-width="1.15"/>
<ellipse cx="1021.27" cy="97.53" rx="4.2" ry="3.8" fill="none" stroke="#000" stroke-width="1.15"/>
<ellipse cx="1021.86" cy="97.01" rx="4.2" ry="3.8" fill="none" stroke="#000" stroke-width="1.15"/>
<ellipse cx="1022.45" cy="96.49" rx="4.2" ry="3.8" fill="none" stroke="#000" stroke-width="1.15"/>
<ellipse cx="1023.04" cy="95.98" rx="4.2" ry="3.8" fill="none" stroke="#000" stroke-width="1.15"/>
<ellipse cx="1023.63" cy="95.46" rx="4.2" ry="3.8" fill="none" stroke="#000" stroke-width="1.15"/>
<ellipse cx="1024.22" cy="94.94" rx="4.2" ry="3.8" fill="none" stroke="#000" stroke-width="1.15"/>
<ellipse cx="1024.81" cy="94.42" rx="4.2" ry="3.8" fill="none" stroke="#000" stroke-width="1.15"/>
<ellipse cx="1025.4" cy="93.91" rx="4.2" ry="3.8" fill="none" stroke="#000" stroke-width="1.15"/>
<ellipse cx="1025.99" cy="93.39" rx="4.2" ry="3.8" fill="none" stroke="#000" stroke-width="1.15"/>
<ellipse cx="1026.58" cy="92.87" rx="4.2" ry="3.8" fill="none" stroke="#000" stroke-width="1.15"/>
<ellipse cx="1027.17" cy="92.36" rx="4.2" ry="3.8" fill="none" stroke="#000" stroke-width="1.15"/>
<ellipse cx="1027.76" cy="91.84" rx="4.2" ry="3.8" fill="none" stroke="#000" stroke-width="1.15"/>
<ellipse cx="1027.76" cy="91.84" rx="4.2" ry="3.8" fill="none" stroke="#000" stroke-width="1.15"/>
<ellipse cx="1029.83" cy="90.03" rx="4.2" ry="3.8" fill="none" stroke="#000" stroke-width="1.15"/>
<ellipse cx="1030.42" cy="89.51" rx="4.2" ry="3.8" fill="none" stroke="#000" stroke-width="1.15"/>
<ellipse cx="1031.01" cy="89" rx="4.2" ry="3.8" fill="none" stroke="#000" stroke-width="1.15"/>
<ellipse cx="1031.6" cy="88.48" rx="4.2" ry="3.8" fill="none" stroke="#000" stroke-width="1.15"/>
<ellipse cx="1032.19" cy="87.96" rx="4.2" ry="3.8" fill="none" stroke="#000" stroke-width="1.15"/>
<ellipse cx="1032.78" cy="87.45" rx="4.2" ry="3.8" fill="none" stroke="#000" stroke-width="1.15"/>
<ellipse cx="1033.37" cy="86.93" rx="4.2" ry="3.8" fill="none" stroke="#000" stroke-width="1.15"/>
<ellipse cx="1033.96" cy="86.41" rx="4.2" ry="3.8" fill="none" stroke="#000" stroke-width="1.15"/>
<ellipse cx="1034.55" cy="85.9" rx="4.2" ry="3.8" fill="none" stroke="#000" stroke-width="1.15"/>
<ellipse cx="1035.14" cy="85.38" rx="4.2" ry="3.8" fill="none" stroke="#000" stroke-width="1.15"/>
<ellipse cx="1035.73" cy="84.86" rx="4.2" ry="3.8" fill="none" stroke="#000" stroke-width="1.15"/>
<ellipse cx="1036.32" cy="84.35" rx="4.2" ry="3.8" fill="none" stroke="#000" stroke-width="1.15"/>
<ellipse cx="1036.91" cy="83.83" rx="4.2" ry="3.8" fill="none" stroke="#000" stroke-width="1.15"/>
<ellipse cx="1037.5" cy="83.31" rx="4.2" ry="3.8" fill="none" stroke="#000" stroke-width="1.15"/>
<ellipse cx="1038.1" cy="82.8" rx="4.2" ry="3.8" fill="none" stroke="#000" stroke-width="1.15"/>
<ellipse cx="1038.1" cy="82.8" rx="4.2" ry="3.8" fill="none" stroke="#000" stroke-width="1.15"/>
<ellipse cx="1040.75" cy="80.47" rx="4.2" ry="3.8" fill="none" stroke="#000" stroke-width="1.15"/>
<ellipse cx="1043.41" cy="78.14" rx="4.2" ry="3.8" fill="none" stroke="#000" stroke-width="1.15"/>
<ellipse cx="1046.07" cy="75.82" rx="4.2" ry="3.8" fill="none" stroke="#000" stroke-width="1.15"/>
<ellipse cx="1048.72" cy="73.49" rx="4.2" ry="3.8" fill="none" stroke="#000" stroke-width="1.15"/>
<ellipse cx="1051.38" cy="71.17" rx="4.2" ry="3.8" fill="none" stroke="#000" stroke-width="1.15"/>
<ellipse cx="1054.04" cy="68.84" rx="4.2" ry="3.8" fill="none" stroke="#000" stroke-width="1.15"/>
<ellipse cx="1056.69" cy="66.52" rx="4.2" ry="3.8" fill="none" stroke="#000" stroke-width="1.15"/>
<ellipse cx="1059.35" cy="64.19" rx="4.2" ry="3.8" fill="none" stroke="#000" stroke-width="1.15"/>
<ellipse cx="1062.01" cy="61.86" rx="4.2" ry="3.8" fill="none" stroke="#000" stroke-width="1.15"/>
<ellipse cx="1064.66" cy="59.54" rx="4.2" ry="3.8" fill="none" stroke="#000" stroke-width="1.15"/>
<ellipse cx="1067.32" cy="57.21" rx="4.2" ry="3.8" fill="none" stroke="#000" stroke-width="1.15"/>
<ellipse cx="1069.98" cy="54.89" rx="4.2" ry="3.8" fill="none" stroke="#000" stroke-width="1.15"/>
<ellipse cx="1072.63" cy="52.56" rx="4.2" ry="3.8" fill="none" stroke="#000" stroke-width="1.15"/>
<ellipse cx="1075.29" cy="50.24" rx="4.2" ry="3.8" fill="none" stroke="#000" stroke-width="1.15"/>
<ellipse cx="1077.95" cy="47.91" rx="4.2" ry="3.8" fill="none" stroke="#000" stroke-width="1.15"/>
<ellipse cx="1080.61" cy="45.59" rx="4.2" ry="3.8" fill="none" stroke="#000" stroke-width="1.15"/>
<ellipse cx="1083.26" cy="43.26" rx="4.2" ry="3.8" fill="none" stroke="#000" stroke-width="1.15"/>
<ellipse cx="1087.1" cy="39.9" rx="4.2" ry="3.8" fill="none" stroke="#000" stroke-width="1.15"/>
</g>
<rect x="834.4" y="39.9" width="252.7" height="221.2" fill="none" stroke="#7f7f7f" stroke-width="1"/>
<line x1="893.44" y1="261.1" x2="893.44" y2="258.5" stroke="#777" stroke-width="1"/>
<line x1="893.44" y1="39.9" x2="893.44" y2="42.5" stroke="#777" stroke-width="1"/>
<text transform="translate(889.6,278.88) scale(1.15,1)" font-size="12" font-weight="normal" fill="#262626">0</text>
<line x1="952.48" y1="261.1" x2="952.48" y2="258.5" stroke="#777" stroke-width="1"/>
<line x1="952.48" y1="39.9" x2="952.48" y2="42.5" stroke="#777" stroke-width="1"/>
<text transform="translate(948.65,278.88) scale(1.15,1)" font-size="12" font-weight="normal" fill="#262626">2</text>
<line x1="1011.53" y1="261.1" x2="1011.53" y2="258.5" stroke="#777" stroke-width="1"/>
<line x1="1011.53" y1="39.9" x2="1011.53" y2="42.5" stroke="#777" stroke-width="1"/>
<text transform="translate(1007.73,278.88) scale(1.15,1)" font-size="12" font-weight="normal" fill="#262626">4</text>
<line x1="1070.57" y1="261.1" x2="1070.57" y2="258.5" stroke="#777" stroke-width="1"/>
<line x1="1070.57" y1="39.9" x2="1070.57" y2="42.5" stroke="#777" stroke-width="1"/>
<text transform="translate(1066.69,278.88) scale(1.15,1)" font-size="12" font-weight="normal" fill="#262626">6</text>
<line x1="834.4" y1="235.26" x2="837" y2="235.26" stroke="#777" stroke-width="1"/>
<line x1="1087.1" y1="235.26" x2="1084.5" y2="235.26" stroke="#777" stroke-width="1"/>
<text transform="translate(816.01,239.94) scale(1.15,1)" font-size="12" font-weight="normal" fill="#262626">-1</text>
<line x1="834.4" y1="209.42" x2="837" y2="209.42" stroke="#777" stroke-width="1"/>
<line x1="1087.1" y1="209.42" x2="1084.5" y2="209.42" stroke="#777" stroke-width="1"/>
<text transform="translate(820.46,214.1) scale(1.15,1)" font-size="12" font-weight="normal" fill="#262626">0</text>
<line x1="834.4" y1="183.58" x2="837" y2="183.58" stroke="#777" stroke-width="1"/>
<line x1="1087.1" y1="183.58" x2="1084.5" y2="183.58" stroke="#777" stroke-width="1"/>
<text transform="translate(820.6,188.26) scale(1.15,1)" font-size="12" font-weight="normal" fill="#262626">1</text>
<line x1="834.4" y1="157.74" x2="837" y2="157.74" stroke="#777" stroke-width="1"/>
<line x1="1087.1" y1="157.74" x2="1084.5" y2="157.74" stroke="#777" stroke-width="1"/>
<text transform="translate(820.63,162.42) scale(1.15,1)" font-size="12" font-weight="normal" fill="#262626">2</text>
<line x1="834.4" y1="131.89" x2="837" y2="131.89" stroke="#777" stroke-width="1"/>
<line x1="1087.1" y1="131.89" x2="1084.5" y2="131.89" stroke="#777" stroke-width="1"/>
<text transform="translate(820.53,136.58) scale(1.15,1)" font-size="12" font-weight="normal" fill="#262626">3</text>
<line x1="834.4" y1="106.05" x2="837" y2="106.05" stroke="#777" stroke-width="1"/>
<line x1="1087.1" y1="106.05" x2="1084.5" y2="106.05" stroke="#777" stroke-width="1"/>
<text transform="translate(820.32,110.74) scale(1.15,1)" font-size="12" font-weight="normal" fill="#262626">4</text>
<line x1="834.4" y1="80.21" x2="837" y2="80.21" stroke="#777" stroke-width="1"/>
<line x1="1087.1" y1="80.21" x2="1084.5" y2="80.21" stroke="#777" stroke-width="1"/>
<text transform="translate(820.49,84.9) scale(1.15,1)" font-size="12" font-weight="normal" fill="#262626">5</text>
<line x1="834.4" y1="54.37" x2="837" y2="54.37" stroke="#777" stroke-width="1"/>
<line x1="1087.1" y1="54.37" x2="1084.5" y2="54.37" stroke="#777" stroke-width="1"/>
<text transform="translate(820.53,59.06) scale(1.15,1)" font-size="12" font-weight="normal" fill="#262626">6</text>
<text transform="translate(905.63,33.1) scale(1.08,1)" font-size="15.85" font-weight="bold" fill="#000">Training: R=1</text>
<text transform="translate(935.23,299.5) scale(1.1,1)" font-size="15.71" font-weight="bold" fill="#1a1a1a">Target</text>
<text transform="translate(807.2,252.8) rotate(-90) scale(1,1.18)" font-size="15.1" font-weight="bold" fill="#1a1a1a">Output ~= 1*Target + 7.5e-11</text>
<rect x="848.5" y="52.5" width="87.1" height="49.9" fill="#fff" stroke="#7f7f7f" stroke-width="1"/>
<ellipse cx="874.3" cy="62.4" rx="4.4" ry="3.8" fill="none" stroke="#222" stroke-width="1"/>
<line x1="852.9" y1="77.8" x2="896" y2="77.8" stroke="#0000ff" stroke-width="2.7"/>
<line x1="852.9" y1="93.4" x2="893.1" y2="93.4" stroke="#666" stroke-width="1" stroke-dasharray="1.3 3.1"/>
<text transform="translate(898.74,67) scale(1.09,1)" font-size="11.78" font-weight="normal" fill="#262626">Data</text>
<text transform="translate(898.73,82.4) scale(1.11,1)" font-size="11.64" font-weight="normal" fill="#262626">Fit</text>
<text transform="translate(899.51,98) scale(1.08,1)" font-size="12.07" font-weight="normal" fill="#262626">Y = T</text>
<g>
<line x1="1167.1" y1="261.1" x2="1419.8" y2="39.9" stroke="#00ff00" stroke-width="3" stroke-linecap="butt"/>
<ellipse cx="1174.9" cy="255.4" rx="4.2" ry="3.8" fill="none" stroke="#000" stroke-width="1"/>
<ellipse cx="1190" cy="241.4" rx="4.2" ry="3.8" fill="none" stroke="#000" stroke-width="1"/>
<ellipse cx="1201.5" cy="231" rx="4.2" ry="3.8" fill="none" stroke="#000" stroke-width="1"/>
<ellipse cx="1207.4" cy="225.7" rx="4.2" ry="3.8" fill="none" stroke="#000" stroke-width="1"/>
<ellipse cx="1240.8" cy="197.2" rx="4.2" ry="3.8" fill="none" stroke="#000" stroke-width="1"/>
<ellipse cx="1240.3" cy="196.7" rx="4.2" ry="3.8" fill="none" stroke="#000" stroke-width="1"/>
<ellipse cx="1254.5" cy="185.2" rx="4.2" ry="3.8" fill="none" stroke="#000" stroke-width="1"/>
<ellipse cx="1259.3" cy="180.6" rx="4.2" ry="3.8" fill="none" stroke="#000" stroke-width="1"/>
<ellipse cx="1276.8" cy="164.4" rx="4.2" ry="3.8" fill="none" stroke="#000" stroke-width="1"/>
<ellipse cx="1284.2" cy="158.3" rx="4.2" ry="3.8" fill="none" stroke="#000" stroke-width="1"/>
<ellipse cx="1294" cy="150.1" rx="4.2" ry="3.8" fill="none" stroke="#000" stroke-width="1"/>
<ellipse cx="1299.2" cy="145.4" rx="4.2" ry="3.8" fill="none" stroke="#000" stroke-width="1"/>
<ellipse cx="1304.8" cy="140.2" rx="4.2" ry="3.8" fill="none" stroke="#000" stroke-width="1"/>
<ellipse cx="1309.7" cy="136.2" rx="4.2" ry="3.8" fill="none" stroke="#000" stroke-width="1"/>
<ellipse cx="1329.4" cy="119.2" rx="4.2" ry="3.8" fill="none" stroke="#000" stroke-width="1"/>
<ellipse cx="1361.9" cy="91.6" rx="4.2" ry="3.8" fill="none" stroke="#000" stroke-width="1"/>
<ellipse cx="1369.7" cy="83.6" rx="4.2" ry="3.8" fill="none" stroke="#000" stroke-width="1"/>
<ellipse cx="1371.3" cy="82.5" rx="4.2" ry="3.8" fill="none" stroke="#000" stroke-width="1"/>
<ellipse cx="1417.4" cy="42.4" rx="4.2" ry="3.8" fill="none" stroke="#000" stroke-width="1"/>
</g>
<rect x="1167.1" y="39.9" width="252.7" height="221.2" fill="none" stroke="#7f7f7f" stroke-width="1"/>
<line x1="1226.14" y1="261.1" x2="1226.14" y2="258.5" stroke="#777" stroke-width="1"/>
<line x1="1226.14" y1="39.9" x2="1226.14" y2="42.5" stroke="#777" stroke-width="1"/>
<text transform="translate(1222.3,278.88) scale(1.15,1)" font-size="12" font-weight="normal" fill="#262626">0</text>
<line x1="1285.18" y1="261.1" x2="1285.18" y2="258.5" stroke="#777" stroke-width="1"/>
<line x1="1285.18" y1="39.9" x2="1285.18" y2="42.5" stroke="#777" stroke-width="1"/>
<text transform="translate(1281.35,278.88) scale(1.15,1)" font-size="12" font-weight="normal" fill="#262626">2</text>
<line x1="1344.23" y1="261.1" x2="1344.23" y2="258.5" stroke="#777" stroke-width="1"/>
<line x1="1344.23" y1="39.9" x2="1344.23" y2="42.5" stroke="#777" stroke-width="1"/>
<text transform="translate(1340.43,278.88) scale(1.15,1)" font-size="12" font-weight="normal" fill="#262626">4</text>
<line x1="1403.27" y1="261.1" x2="1403.27" y2="258.5" stroke="#777" stroke-width="1"/>
<line x1="1403.27" y1="39.9" x2="1403.27" y2="42.5" stroke="#777" stroke-width="1"/>
<text transform="translate(1399.39,278.88) scale(1.15,1)" font-size="12" font-weight="normal" fill="#262626">6</text>
<line x1="1167.1" y1="235.26" x2="1169.7" y2="235.26" stroke="#777" stroke-width="1"/>
<line x1="1419.8" y1="235.26" x2="1417.2" y2="235.26" stroke="#777" stroke-width="1"/>
<text transform="translate(1148.71,239.94) scale(1.15,1)" font-size="12" font-weight="normal" fill="#262626">-1</text>
<line x1="1167.1" y1="209.42" x2="1169.7" y2="209.42" stroke="#777" stroke-width="1"/>
<line x1="1419.8" y1="209.42" x2="1417.2" y2="209.42" stroke="#777" stroke-width="1"/>
<text transform="translate(1153.16,214.1) scale(1.15,1)" font-size="12" font-weight="normal" fill="#262626">0</text>
<line x1="1167.1" y1="183.58" x2="1169.7" y2="183.58" stroke="#777" stroke-width="1"/>
<line x1="1419.8" y1="183.58" x2="1417.2" y2="183.58" stroke="#777" stroke-width="1"/>
<text transform="translate(1153.3,188.26) scale(1.15,1)" font-size="12" font-weight="normal" fill="#262626">1</text>
<line x1="1167.1" y1="157.74" x2="1169.7" y2="157.74" stroke="#777" stroke-width="1"/>
<line x1="1419.8" y1="157.74" x2="1417.2" y2="157.74" stroke="#777" stroke-width="1"/>
<text transform="translate(1153.33,162.42) scale(1.15,1)" font-size="12" font-weight="normal" fill="#262626">2</text>
<line x1="1167.1" y1="131.89" x2="1169.7" y2="131.89" stroke="#777" stroke-width="1"/>
<line x1="1419.8" y1="131.89" x2="1417.2" y2="131.89" stroke="#777" stroke-width="1"/>
<text transform="translate(1153.23,136.58) scale(1.15,1)" font-size="12" font-weight="normal" fill="#262626">3</text>
<line x1="1167.1" y1="106.05" x2="1169.7" y2="106.05" stroke="#777" stroke-width="1"/>
<line x1="1419.8" y1="106.05" x2="1417.2" y2="106.05" stroke="#777" stroke-width="1"/>
<text transform="translate(1153.02,110.74) scale(1.15,1)" font-size="12" font-weight="normal" fill="#262626">4</text>
<line x1="1167.1" y1="80.21" x2="1169.7" y2="80.21" stroke="#777" stroke-width="1"/>
<line x1="1419.8" y1="80.21" x2="1417.2" y2="80.21" stroke="#777" stroke-width="1"/>
<text transform="translate(1153.19,84.9) scale(1.15,1)" font-size="12" font-weight="normal" fill="#262626">5</text>
<line x1="1167.1" y1="54.37" x2="1169.7" y2="54.37" stroke="#777" stroke-width="1"/>
<line x1="1419.8" y1="54.37" x2="1417.2" y2="54.37" stroke="#777" stroke-width="1"/>
<text transform="translate(1153.23,59.06) scale(1.15,1)" font-size="12" font-weight="normal" fill="#262626">6</text>
<text transform="translate(1205.47,33) scale(1.08,1)" font-size="16" font-weight="bold" fill="#000">Validation: R=0.99999</text>
<text transform="translate(1267.93,299.5) scale(1.1,1)" font-size="15.71" font-weight="bold" fill="#1a1a1a">Target</text>
<text transform="translate(1139.7,252.71) rotate(-90) scale(1,1.2)" font-size="15.17" font-weight="bold" fill="#1a1a1a">Output ~= 1*Target + -0.0038</text>
<rect x="1181.2" y="52.5" width="87.1" height="49.9" fill="#fff" stroke="#7f7f7f" stroke-width="1"/>
<ellipse cx="1207" cy="62.4" rx="4.4" ry="3.8" fill="none" stroke="#222" stroke-width="1"/>
<line x1="1185.6" y1="77.8" x2="1228.7" y2="77.8" stroke="#00ff00" stroke-width="2.7"/>
<line x1="1185.6" y1="93.4" x2="1225.8" y2="93.4" stroke="#666" stroke-width="1" stroke-dasharray="1.3 3.1"/>
<text transform="translate(1231.44,67) scale(1.09,1)" font-size="11.78" font-weight="normal" fill="#262626">Data</text>
<text transform="translate(1231.43,82.4) scale(1.11,1)" font-size="11.64" font-weight="normal" fill="#262626">Fit</text>
<text transform="translate(1232.21,98) scale(1.08,1)" font-size="12.07" font-weight="normal" fill="#262626">Y = T</text>
<g>
<line x1="834.4" y1="574.5" x2="1087.1" y2="353.3" stroke="#ff0000" stroke-width="3" stroke-linecap="butt"/>
<ellipse cx="849.2" cy="561.4" rx="4.2" ry="3.8" fill="none" stroke="#000" stroke-width="1"/>
<ellipse cx="898" cy="518.8" rx="4.2" ry="3.8" fill="none" stroke="#000" stroke-width="1"/>
<ellipse cx="905.5" cy="512.5" rx="4.2" ry="3.8" fill="none" stroke="#000" stroke-width="1"/>
<ellipse cx="907.5" cy="510.8" rx="4.2" ry="3.8" fill="none" stroke="#000" stroke-width="1"/>
<ellipse cx="909.4" cy="509.3" rx="4.2" ry="3.8" fill="none" stroke="#000" stroke-width="1"/>
<ellipse cx="946.4" cy="476.4" rx="4.2" ry="3.8" fill="none" stroke="#000" stroke-width="1"/>
<ellipse cx="956.8" cy="466.7" rx="4.2" ry="3.8" fill="none" stroke="#000" stroke-width="1"/>
<ellipse cx="959.6" cy="464.3" rx="4.2" ry="3.8" fill="none" stroke="#000" stroke-width="1"/>
<ellipse cx="961.8" cy="462.9" rx="4.2" ry="3.8" fill="none" stroke="#000" stroke-width="1"/>
<ellipse cx="965.8" cy="459.2" rx="4.2" ry="3.8" fill="none" stroke="#000" stroke-width="1"/>
<ellipse cx="977.5" cy="449.2" rx="4.2" ry="3.8" fill="none" stroke="#000" stroke-width="1"/>
<ellipse cx="983.1" cy="444.3" rx="4.2" ry="3.8" fill="none" stroke="#000" stroke-width="1"/>
<ellipse cx="985.9" cy="441.3" rx="4.2" ry="3.8" fill="none" stroke="#000" stroke-width="1"/>
<ellipse cx="988.2" cy="439.6" rx="4.2" ry="3.8" fill="none" stroke="#000" stroke-width="1"/>
<ellipse cx="990.4" cy="438.3" rx="4.2" ry="3.8" fill="none" stroke="#000" stroke-width="1"/>
<ellipse cx="996.9" cy="432.4" rx="4.2" ry="3.8" fill="none" stroke="#000" stroke-width="1"/>
<ellipse cx="1001.3" cy="428.3" rx="4.2" ry="3.8" fill="none" stroke="#000" stroke-width="1"/>
</g>
<rect x="834.4" y="353.3" width="252.7" height="221.2" fill="none" stroke="#7f7f7f" stroke-width="1"/>
<line x1="893.44" y1="574.5" x2="893.44" y2="571.9" stroke="#777" stroke-width="1"/>
<line x1="893.44" y1="353.3" x2="893.44" y2="355.9" stroke="#777" stroke-width="1"/>
<text transform="translate(889.6,592.28) scale(1.15,1)" font-size="12" font-weight="normal" fill="#262626">0</text>
<line x1="952.48" y1="574.5" x2="952.48" y2="571.9" stroke="#777" stroke-width="1"/>
<line x1="952.48" y1="353.3" x2="952.48" y2="355.9" stroke="#777" stroke-width="1"/>
<text transform="translate(948.65,592.28) scale(1.15,1)" font-size="12" font-weight="normal" fill="#262626">2</text>
<line x1="1011.53" y1="574.5" x2="1011.53" y2="571.9" stroke="#777" stroke-width="1"/>
<line x1="1011.53" y1="353.3" x2="1011.53" y2="355.9" stroke="#777" stroke-width="1"/>
<text transform="translate(1007.73,592.28) scale(1.15,1)" font-size="12" font-weight="normal" fill="#262626">4</text>
<line x1="1070.57" y1="574.5" x2="1070.57" y2="571.9" stroke="#777" stroke-width="1"/>
<line x1="1070.57" y1="353.3" x2="1070.57" y2="355.9" stroke="#777" stroke-width="1"/>
<text transform="translate(1066.69,592.28) scale(1.15,1)" font-size="12" font-weight="normal" fill="#262626">6</text>
<line x1="834.4" y1="548.66" x2="837" y2="548.66" stroke="#777" stroke-width="1"/>
<line x1="1087.1" y1="548.66" x2="1084.5" y2="548.66" stroke="#777" stroke-width="1"/>
<text transform="translate(816.01,553.34) scale(1.15,1)" font-size="12" font-weight="normal" fill="#262626">-1</text>
<line x1="834.4" y1="522.82" x2="837" y2="522.82" stroke="#777" stroke-width="1"/>
<line x1="1087.1" y1="522.82" x2="1084.5" y2="522.82" stroke="#777" stroke-width="1"/>
<text transform="translate(820.46,527.5) scale(1.15,1)" font-size="12" font-weight="normal" fill="#262626">0</text>
<line x1="834.4" y1="496.98" x2="837" y2="496.98" stroke="#777" stroke-width="1"/>
<line x1="1087.1" y1="496.98" x2="1084.5" y2="496.98" stroke="#777" stroke-width="1"/>
<text transform="translate(820.6,501.66) scale(1.15,1)" font-size="12" font-weight="normal" fill="#262626">1</text>
<line x1="834.4" y1="471.14" x2="837" y2="471.14" stroke="#777" stroke-width="1"/>
<line x1="1087.1" y1="471.14" x2="1084.5" y2="471.14" stroke="#777" stroke-width="1"/>
<text transform="translate(820.63,475.82) scale(1.15,1)" font-size="12" font-weight="normal" fill="#262626">2</text>
<line x1="834.4" y1="445.29" x2="837" y2="445.29" stroke="#777" stroke-width="1"/>
<line x1="1087.1" y1="445.29" x2="1084.5" y2="445.29" stroke="#777" stroke-width="1"/>
<text transform="translate(820.53,449.98) scale(1.15,1)" font-size="12" font-weight="normal" fill="#262626">3</text>
<line x1="834.4" y1="419.45" x2="837" y2="419.45" stroke="#777" stroke-width="1"/>
<line x1="1087.1" y1="419.45" x2="1084.5" y2="419.45" stroke="#777" stroke-width="1"/>
<text transform="translate(820.32,424.14) scale(1.15,1)" font-size="12" font-weight="normal" fill="#262626">4</text>
<line x1="834.4" y1="393.61" x2="837" y2="393.61" stroke="#777" stroke-width="1"/>
<line x1="1087.1" y1="393.61" x2="1084.5" y2="393.61" stroke="#777" stroke-width="1"/>
<text transform="translate(820.49,398.3) scale(1.15,1)" font-size="12" font-weight="normal" fill="#262626">5</text>
<line x1="834.4" y1="367.77" x2="837" y2="367.77" stroke="#777" stroke-width="1"/>
<line x1="1087.1" y1="367.77" x2="1084.5" y2="367.77" stroke="#777" stroke-width="1"/>
<text transform="translate(820.53,372.46) scale(1.15,1)" font-size="12" font-weight="normal" fill="#262626">6</text>
<text transform="translate(894.93,346.6) scale(1.12,1)" font-size="15.56" font-weight="bold" fill="#000">Test: R=0.99999</text>
<text transform="translate(935.23,612.9) scale(1.1,1)" font-size="15.71" font-weight="bold" fill="#1a1a1a">Target</text>
<text transform="translate(807.3,568.81) rotate(-90) scale(1,1.2)" font-size="15.14" font-weight="bold" fill="#1a1a1a">Output ~= 1*Target + -4.1e-05</text>
<rect x="848.5" y="365.9" width="87.1" height="49.9" fill="#fff" stroke="#7f7f7f" stroke-width="1"/>
<ellipse cx="874.3" cy="375.8" rx="4.4" ry="3.8" fill="none" stroke="#222" stroke-width="1"/>
<line x1="852.9" y1="391.2" x2="896" y2="391.2" stroke="#ff0000" stroke-width="2.7"/>
<line x1="852.9" y1="406.8" x2="893.1" y2="406.8" stroke="#666" stroke-width="1" stroke-dasharray="1.3 3.1"/>
<text transform="translate(898.74,380.4) scale(1.09,1)" font-size="11.78" font-weight="normal" fill="#262626">Data</text>
<text transform="translate(898.73,395.8) scale(1.11,1)" font-size="11.64" font-weight="normal" fill="#262626">Fit</text>
<text transform="translate(899.51,411.4) scale(1.08,1)" font-size="12.07" font-weight="normal" fill="#262626">Y = T</text>
<g>
<line x1="1167.1" y1="574.5" x2="1419.8" y2="353.3" stroke="#606060" stroke-width="3" stroke-linecap="butt"/>
<ellipse cx="1167.1" cy="574.5" rx="4.2" ry="3.8" fill="none" stroke="#000" stroke-width="1.15"/>
<ellipse cx="1168.28" cy="573.47" rx="4.2" ry="3.8" fill="none" stroke="#000" stroke-width="1.15"/>
<ellipse cx="1169.46" cy="572.43" rx="4.2" ry="3.8" fill="none" stroke="#000" stroke-width="1.15"/>
<ellipse cx="1170.64" cy="571.4" rx="4.2" ry="3.8" fill="none" stroke="#000" stroke-width="1.15"/>
<ellipse cx="1171.82" cy="570.37" rx="4.2" ry="3.8" fill="none" stroke="#000" stroke-width="1.15"/>
<ellipse cx="1173" cy="569.33" rx="4.2" ry="3.8" fill="none" stroke="#000" stroke-width="1.15"/>
<ellipse cx="1174.19" cy="568.3" rx="4.2" ry="3.8" fill="none" stroke="#000" stroke-width="1.15"/>
<ellipse cx="1175.37" cy="567.26" rx="4.2" ry="3.8" fill="none" stroke="#000" stroke-width="1.15"/>
<ellipse cx="1175.96" cy="566.75" rx="4.2" ry="3.8" fill="none" stroke="#000" stroke-width="1.15"/>
<ellipse cx="1178.61" cy="564.42" rx="4.2" ry="3.8" fill="none" stroke="#000" stroke-width="1.15"/>
<ellipse cx="1181.27" cy="562.1" rx="4.2" ry="3.8" fill="none" stroke="#000" stroke-width="1.15"/>
<ellipse cx="1183.93" cy="559.77" rx="4.2" ry="3.8" fill="none" stroke="#000" stroke-width="1.15"/>
<ellipse cx="1186.58" cy="557.44" rx="4.2" ry="3.8" fill="none" stroke="#000" stroke-width="1.15"/>
<ellipse cx="1189.24" cy="555.12" rx="4.2" ry="3.8" fill="none" stroke="#000" stroke-width="1.15"/>
<ellipse cx="1191.9" cy="552.79" rx="4.2" ry="3.8" fill="none" stroke="#000" stroke-width="1.15"/>
<ellipse cx="1194.55" cy="550.47" rx="4.2" ry="3.8" fill="none" stroke="#000" stroke-width="1.15"/>
<ellipse cx="1197.21" cy="548.14" rx="4.2" ry="3.8" fill="none" stroke="#000" stroke-width="1.15"/>
<ellipse cx="1199.87" cy="545.82" rx="4.2" ry="3.8" fill="none" stroke="#000" stroke-width="1.15"/>
<ellipse cx="1202.53" cy="543.49" rx="4.2" ry="3.8" fill="none" stroke="#000" stroke-width="1.15"/>
<ellipse cx="1205.18" cy="541.16" rx="4.2" ry="3.8" fill="none" stroke="#000" stroke-width="1.15"/>
<ellipse cx="1207.84" cy="538.84" rx="4.2" ry="3.8" fill="none" stroke="#000" stroke-width="1.15"/>
<ellipse cx="1210.5" cy="536.51" rx="4.2" ry="3.8" fill="none" stroke="#000" stroke-width="1.15"/>
<ellipse cx="1213.15" cy="534.19" rx="4.2" ry="3.8" fill="none" stroke="#000" stroke-width="1.15"/>
<ellipse cx="1215.81" cy="531.86" rx="4.2" ry="3.8" fill="none" stroke="#000" stroke-width="1.15"/>
<ellipse cx="1218.47" cy="529.54" rx="4.2" ry="3.8" fill="none" stroke="#000" stroke-width="1.15"/>
<ellipse cx="1221.12" cy="527.21" rx="4.2" ry="3.8" fill="none" stroke="#000" stroke-width="1.15"/>
<ellipse cx="1223.78" cy="524.89" rx="4.2" ry="3.8" fill="none" stroke="#000" stroke-width="1.15"/>
<ellipse cx="1224.67" cy="524.11" rx="4.2" ry="3.8" fill="none" stroke="#000" stroke-width="1.15"/>
<ellipse cx="1225.55" cy="523.33" rx="4.2" ry="3.8" fill="none" stroke="#000" stroke-width="1.15"/>
<ellipse cx="1226.44" cy="522.56" rx="4.2" ry="3.8" fill="none" stroke="#000" stroke-width="1.15"/>
<ellipse cx="1227.32" cy="521.78" rx="4.2" ry="3.8" fill="none" stroke="#000" stroke-width="1.15"/>
<ellipse cx="1228.21" cy="521.01" rx="4.2" ry="3.8" fill="none" stroke="#000" stroke-width="1.15"/>
<ellipse cx="1229.09" cy="520.23" rx="4.2" ry="3.8" fill="none" stroke="#000" stroke-width="1.15"/>
<ellipse cx="1229.98" cy="519.46" rx="4.2" ry="3.8" fill="none" stroke="#000" stroke-width="1.15"/>
<ellipse cx="1230.87" cy="518.68" rx="4.2" ry="3.8" fill="none" stroke="#000" stroke-width="1.15"/>
<ellipse cx="1231.75" cy="517.91" rx="4.2" ry="3.8" fill="none" stroke="#000" stroke-width="1.15"/>
<ellipse cx="1232.05" cy="517.65" rx="4.2" ry="3.8" fill="none" stroke="#000" stroke-width="1.15"/>
<ellipse cx="1234.7" cy="515.32" rx="4.2" ry="3.8" fill="none" stroke="#000" stroke-width="1.15"/>
<ellipse cx="1237.36" cy="513" rx="4.2" ry="3.8" fill="none" stroke="#000" stroke-width="1.15"/>
<ellipse cx="1240.02" cy="510.67" rx="4.2" ry="3.8" fill="none" stroke="#000" stroke-width="1.15"/>
<ellipse cx="1242.67" cy="508.35" rx="4.2" ry="3.8" fill="none" stroke="#000" stroke-width="1.15"/>
<ellipse cx="1245.33" cy="506.02" rx="4.2" ry="3.8" fill="none" stroke="#000" stroke-width="1.15"/>
<ellipse cx="1247.99" cy="503.7" rx="4.2" ry="3.8" fill="none" stroke="#000" stroke-width="1.15"/>
<ellipse cx="1250.64" cy="501.37" rx="4.2" ry="3.8" fill="none" stroke="#000" stroke-width="1.15"/>
<ellipse cx="1253.3" cy="499.04" rx="4.2" ry="3.8" fill="none" stroke="#000" stroke-width="1.15"/>
<ellipse cx="1255.96" cy="496.72" rx="4.2" ry="3.8" fill="none" stroke="#000" stroke-width="1.15"/>
<ellipse cx="1258.62" cy="494.39" rx="4.2" ry="3.8" fill="none" stroke="#000" stroke-width="1.15"/>
<ellipse cx="1261.27" cy="492.07" rx="4.2" ry="3.8" fill="none" stroke="#000" stroke-width="1.15"/>
<ellipse cx="1263.93" cy="489.74" rx="4.2" ry="3.8" fill="none" stroke="#000" stroke-width="1.15"/>
<ellipse cx="1266.59" cy="487.42" rx="4.2" ry="3.8" fill="none" stroke="#000" stroke-width="1.15"/>
<ellipse cx="1267.47" cy="486.64" rx="4.2" ry="3.8" fill="none" stroke="#000" stroke-width="1.15"/>
<ellipse cx="1268.06" cy="486.12" rx="4.2" ry="3.8" fill="none" stroke="#000" stroke-width="1.15"/>
<ellipse cx="1268.65" cy="485.61" rx="4.2" ry="3.8" fill="none" stroke="#000" stroke-width="1.15"/>
<ellipse cx="1269.24" cy="485.09" rx="4.2" ry="3.8" fill="none" stroke="#000" stroke-width="1.15"/>
<ellipse cx="1269.83" cy="484.57" rx="4.2" ry="3.8" fill="none" stroke="#000" stroke-width="1.15"/>
<ellipse cx="1270.42" cy="484.06" rx="4.2" ry="3.8" fill="none" stroke="#000" stroke-width="1.15"/>
<ellipse cx="1271.01" cy="483.54" rx="4.2" ry="3.8" fill="none" stroke="#000" stroke-width="1.15"/>
<ellipse cx="1271.6" cy="483.02" rx="4.2" ry="3.8" fill="none" stroke="#000" stroke-width="1.15"/>
<ellipse cx="1272.19" cy="482.51" rx="4.2" ry="3.8" fill="none" stroke="#000" stroke-width="1.15"/>
<ellipse cx="1272.79" cy="481.99" rx="4.2" ry="3.8" fill="none" stroke="#000" stroke-width="1.15"/>
<ellipse cx="1273.38" cy="481.47" rx="4.2" ry="3.8" fill="none" stroke="#000" stroke-width="1.15"/>
<ellipse cx="1273.97" cy="480.96" rx="4.2" ry="3.8" fill="none" stroke="#000" stroke-width="1.15"/>
<ellipse cx="1274.56" cy="480.44" rx="4.2" ry="3.8" fill="none" stroke="#000" stroke-width="1.15"/>
<ellipse cx="1275.15" cy="479.92" rx="4.2" ry="3.8" fill="none" stroke="#000" stroke-width="1.15"/>
<ellipse cx="1275.74" cy="479.4" rx="4.2" ry="3.8" fill="none" stroke="#000" stroke-width="1.15"/>
<ellipse cx="1276.33" cy="478.89" rx="4.2" ry="3.8" fill="none" stroke="#000" stroke-width="1.15"/>
<ellipse cx="1276.92" cy="478.37" rx="4.2" ry="3.8" fill="none" stroke="#000" stroke-width="1.15"/>
<ellipse cx="1277.51" cy="477.85" rx="4.2" ry="3.8" fill="none" stroke="#000" stroke-width="1.15"/>
<ellipse cx="1278.1" cy="477.34" rx="4.2" ry="3.8" fill="none" stroke="#000" stroke-width="1.15"/>
<ellipse cx="1278.69" cy="476.82" rx="4.2" ry="3.8" fill="none" stroke="#000" stroke-width="1.15"/>
<ellipse cx="1279.28" cy="476.3" rx="4.2" ry="3.8" fill="none" stroke="#000" stroke-width="1.15"/>
<ellipse cx="1279.87" cy="475.79" rx="4.2" ry="3.8" fill="none" stroke="#000" stroke-width="1.15"/>
<ellipse cx="1280.46" cy="475.27" rx="4.2" ry="3.8" fill="none" stroke="#000" stroke-width="1.15"/>
<ellipse cx="1281.05" cy="474.75" rx="4.2" ry="3.8" fill="none" stroke="#000" stroke-width="1.15"/>
<ellipse cx="1281.64" cy="474.24" rx="4.2" ry="3.8" fill="none" stroke="#000" stroke-width="1.15"/>
<ellipse cx="1282.23" cy="473.72" rx="4.2" ry="3.8" fill="none" stroke="#000" stroke-width="1.15"/>
<ellipse cx="1282.82" cy="473.2" rx="4.2" ry="3.8" fill="none" stroke="#000" stroke-width="1.15"/>
<ellipse cx="1283.41" cy="472.69" rx="4.2" ry="3.8" fill="none" stroke="#000" stroke-width="1.15"/>
<ellipse cx="1284" cy="472.17" rx="4.2" ry="3.8" fill="none" stroke="#000" stroke-width="1.15"/>
<ellipse cx="1284.59" cy="471.65" rx="4.2" ry="3.8" fill="none" stroke="#000" stroke-width="1.15"/>
<ellipse cx="1285.18" cy="471.14" rx="4.2" ry="3.8" fill="none" stroke="#000" stroke-width="1.15"/>
<ellipse cx="1285.77" cy="470.62" rx="4.2" ry="3.8" fill="none" stroke="#000" stroke-width="1.15"/>
<ellipse cx="1286.36" cy="470.1" rx="4.2" ry="3.8" fill="none" stroke="#000" stroke-width="1.15"/>
<ellipse cx="1286.96" cy="469.59" rx="4.2" ry="3.8" fill="none" stroke="#000" stroke-width="1.15"/>
<ellipse cx="1287.55" cy="469.07" rx="4.2" ry="3.8" fill="none" stroke="#000" stroke-width="1.15"/>
<ellipse cx="1288.14" cy="468.55" rx="4.2" ry="3.8" fill="none" stroke="#000" stroke-width="1.15"/>
<ellipse cx="1288.73" cy="468.03" rx="4.2" ry="3.8" fill="none" stroke="#000" stroke-width="1.15"/>
<ellipse cx="1289.32" cy="467.52" rx="4.2" ry="3.8" fill="none" stroke="#000" stroke-width="1.15"/>
<ellipse cx="1289.91" cy="467" rx="4.2" ry="3.8" fill="none" stroke="#000" stroke-width="1.15"/>
<ellipse cx="1290.5" cy="466.48" rx="4.2" ry="3.8" fill="none" stroke="#000" stroke-width="1.15"/>
<ellipse cx="1291.09" cy="465.97" rx="4.2" ry="3.8" fill="none" stroke="#000" stroke-width="1.15"/>
<ellipse cx="1291.68" cy="465.45" rx="4.2" ry="3.8" fill="none" stroke="#000" stroke-width="1.15"/>
<ellipse cx="1292.27" cy="464.93" rx="4.2" ry="3.8" fill="none" stroke="#000" stroke-width="1.15"/>
<ellipse cx="1292.86" cy="464.42" rx="4.2" ry="3.8" fill="none" stroke="#000" stroke-width="1.15"/>
<ellipse cx="1293.45" cy="463.9" rx="4.2" ry="3.8" fill="none" stroke="#000" stroke-width="1.15"/>
<ellipse cx="1294.04" cy="463.38" rx="4.2" ry="3.8" fill="none" stroke="#000" stroke-width="1.15"/>
<ellipse cx="1294.63" cy="462.87" rx="4.2" ry="3.8" fill="none" stroke="#000" stroke-width="1.15"/>
<ellipse cx="1295.22" cy="462.35" rx="4.2" ry="3.8" fill="none" stroke="#000" stroke-width="1.15"/>
<ellipse cx="1295.81" cy="461.83" rx="4.2" ry="3.8" fill="none" stroke="#000" stroke-width="1.15"/>
<ellipse cx="1296.4" cy="461.32" rx="4.2" ry="3.8" fill="none" stroke="#000" stroke-width="1.15"/>
<ellipse cx="1296.99" cy="460.8" rx="4.2" ry="3.8" fill="none" stroke="#000" stroke-width="1.15"/>
<ellipse cx="1297.58" cy="460.28" rx="4.2" ry="3.8" fill="none" stroke="#000" stroke-width="1.15"/>
<ellipse cx="1298.17" cy="459.77" rx="4.2" ry="3.8" fill="none" stroke="#000" stroke-width="1.15"/>
<ellipse cx="1298.76" cy="459.25" rx="4.2" ry="3.8" fill="none" stroke="#000" stroke-width="1.15"/>
<ellipse cx="1299.35" cy="458.73" rx="4.2" ry="3.8" fill="none" stroke="#000" stroke-width="1.15"/>
<ellipse cx="1299.94" cy="458.21" rx="4.2" ry="3.8" fill="none" stroke="#000" stroke-width="1.15"/>
<ellipse cx="1300.54" cy="457.7" rx="4.2" ry="3.8" fill="none" stroke="#000" stroke-width="1.15"/>
<ellipse cx="1301.13" cy="457.18" rx="4.2" ry="3.8" fill="none" stroke="#000" stroke-width="1.15"/>
<ellipse cx="1301.72" cy="456.66" rx="4.2" ry="3.8" fill="none" stroke="#000" stroke-width="1.15"/>
<ellipse cx="1302.31" cy="456.15" rx="4.2" ry="3.8" fill="none" stroke="#000" stroke-width="1.15"/>
<ellipse cx="1302.9" cy="455.63" rx="4.2" ry="3.8" fill="none" stroke="#000" stroke-width="1.15"/>
<ellipse cx="1305.55" cy="453.31" rx="4.2" ry="3.8" fill="none" stroke="#000" stroke-width="1.15"/>
<ellipse cx="1306.44" cy="452.53" rx="4.2" ry="3.8" fill="none" stroke="#000" stroke-width="1.15"/>
<ellipse cx="1307.03" cy="452.01" rx="4.2" ry="3.8" fill="none" stroke="#000" stroke-width="1.15"/>
<ellipse cx="1307.62" cy="451.5" rx="4.2" ry="3.8" fill="none" stroke="#000" stroke-width="1.15"/>
<ellipse cx="1308.21" cy="450.98" rx="4.2" ry="3.8" fill="none" stroke="#000" stroke-width="1.15"/>
<ellipse cx="1308.8" cy="450.46" rx="4.2" ry="3.8" fill="none" stroke="#000" stroke-width="1.15"/>
<ellipse cx="1309.39" cy="449.95" rx="4.2" ry="3.8" fill="none" stroke="#000" stroke-width="1.15"/>
<ellipse cx="1309.98" cy="449.43" rx="4.2" ry="3.8" fill="none" stroke="#000" stroke-width="1.15"/>
<ellipse cx="1310.57" cy="448.91" rx="4.2" ry="3.8" fill="none" stroke="#000" stroke-width="1.15"/>
<ellipse cx="1311.16" cy="448.4" rx="4.2" ry="3.8" fill="none" stroke="#000" stroke-width="1.15"/>
<ellipse cx="1311.75" cy="447.88" rx="4.2" ry="3.8" fill="none" stroke="#000" stroke-width="1.15"/>
<ellipse cx="1312.34" cy="447.36" rx="4.2" ry="3.8" fill="none" stroke="#000" stroke-width="1.15"/>
<ellipse cx="1312.93" cy="446.84" rx="4.2" ry="3.8" fill="none" stroke="#000" stroke-width="1.15"/>
<ellipse cx="1313.52" cy="446.33" rx="4.2" ry="3.8" fill="none" stroke="#000" stroke-width="1.15"/>
<ellipse cx="1314.11" cy="445.81" rx="4.2" ry="3.8" fill="none" stroke="#000" stroke-width="1.15"/>
<ellipse cx="1314.71" cy="445.29" rx="4.2" ry="3.8" fill="none" stroke="#000" stroke-width="1.15"/>
<ellipse cx="1315.3" cy="444.78" rx="4.2" ry="3.8" fill="none" stroke="#000" stroke-width="1.15"/>
<ellipse cx="1315.89" cy="444.26" rx="4.2" ry="3.8" fill="none" stroke="#000" stroke-width="1.15"/>
<ellipse cx="1316.48" cy="443.74" rx="4.2" ry="3.8" fill="none" stroke="#000" stroke-width="1.15"/>
<ellipse cx="1317.07" cy="443.23" rx="4.2" ry="3.8" fill="none" stroke="#000" stroke-width="1.15"/>
<ellipse cx="1317.66" cy="442.71" rx="4.2" ry="3.8" fill="none" stroke="#000" stroke-width="1.15"/>
<ellipse cx="1318.25" cy="442.19" rx="4.2" ry="3.8" fill="none" stroke="#000" stroke-width="1.15"/>
<ellipse cx="1318.84" cy="441.68" rx="4.2" ry="3.8" fill="none" stroke="#000" stroke-width="1.15"/>
<ellipse cx="1319.43" cy="441.16" rx="4.2" ry="3.8" fill="none" stroke="#000" stroke-width="1.15"/>
<ellipse cx="1320.02" cy="440.64" rx="4.2" ry="3.8" fill="none" stroke="#000" stroke-width="1.15"/>
<ellipse cx="1320.61" cy="440.13" rx="4.2" ry="3.8" fill="none" stroke="#000" stroke-width="1.15"/>
<ellipse cx="1321.2" cy="439.61" rx="4.2" ry="3.8" fill="none" stroke="#000" stroke-width="1.15"/>
<ellipse cx="1321.79" cy="439.09" rx="4.2" ry="3.8" fill="none" stroke="#000" stroke-width="1.15"/>
<ellipse cx="1322.38" cy="438.58" rx="4.2" ry="3.8" fill="none" stroke="#000" stroke-width="1.15"/>
<ellipse cx="1322.97" cy="438.06" rx="4.2" ry="3.8" fill="none" stroke="#000" stroke-width="1.15"/>
<ellipse cx="1323.56" cy="437.54" rx="4.2" ry="3.8" fill="none" stroke="#000" stroke-width="1.15"/>
<ellipse cx="1324.15" cy="437.03" rx="4.2" ry="3.8" fill="none" stroke="#000" stroke-width="1.15"/>
<ellipse cx="1324.74" cy="436.51" rx="4.2" ry="3.8" fill="none" stroke="#000" stroke-width="1.15"/>
<ellipse cx="1325.33" cy="435.99" rx="4.2" ry="3.8" fill="none" stroke="#000" stroke-width="1.15"/>
<ellipse cx="1325.92" cy="435.47" rx="4.2" ry="3.8" fill="none" stroke="#000" stroke-width="1.15"/>
<ellipse cx="1326.51" cy="434.96" rx="4.2" ry="3.8" fill="none" stroke="#000" stroke-width="1.15"/>
<ellipse cx="1327.1" cy="434.44" rx="4.2" ry="3.8" fill="none" stroke="#000" stroke-width="1.15"/>
<ellipse cx="1327.69" cy="433.92" rx="4.2" ry="3.8" fill="none" stroke="#000" stroke-width="1.15"/>
<ellipse cx="1328.28" cy="433.41" rx="4.2" ry="3.8" fill="none" stroke="#000" stroke-width="1.15"/>
<ellipse cx="1328.88" cy="432.89" rx="4.2" ry="3.8" fill="none" stroke="#000" stroke-width="1.15"/>
<ellipse cx="1329.47" cy="432.37" rx="4.2" ry="3.8" fill="none" stroke="#000" stroke-width="1.15"/>
<ellipse cx="1330.06" cy="431.86" rx="4.2" ry="3.8" fill="none" stroke="#000" stroke-width="1.15"/>
<ellipse cx="1330.65" cy="431.34" rx="4.2" ry="3.8" fill="none" stroke="#000" stroke-width="1.15"/>
<ellipse cx="1331.24" cy="430.82" rx="4.2" ry="3.8" fill="none" stroke="#000" stroke-width="1.15"/>
<ellipse cx="1331.83" cy="430.31" rx="4.2" ry="3.8" fill="none" stroke="#000" stroke-width="1.15"/>
<ellipse cx="1332.42" cy="429.79" rx="4.2" ry="3.8" fill="none" stroke="#000" stroke-width="1.15"/>
<ellipse cx="1335.07" cy="427.46" rx="4.2" ry="3.8" fill="none" stroke="#000" stroke-width="1.15"/>
<ellipse cx="1335.96" cy="426.69" rx="4.2" ry="3.8" fill="none" stroke="#000" stroke-width="1.15"/>
<ellipse cx="1336.55" cy="426.17" rx="4.2" ry="3.8" fill="none" stroke="#000" stroke-width="1.15"/>
<ellipse cx="1337.14" cy="425.66" rx="4.2" ry="3.8" fill="none" stroke="#000" stroke-width="1.15"/>
<ellipse cx="1337.73" cy="425.14" rx="4.2" ry="3.8" fill="none" stroke="#000" stroke-width="1.15"/>
<ellipse cx="1338.32" cy="424.62" rx="4.2" ry="3.8" fill="none" stroke="#000" stroke-width="1.15"/>
<ellipse cx="1338.91" cy="424.1" rx="4.2" ry="3.8" fill="none" stroke="#000" stroke-width="1.15"/>
<ellipse cx="1339.5" cy="423.59" rx="4.2" ry="3.8" fill="none" stroke="#000" stroke-width="1.15"/>
<ellipse cx="1340.09" cy="423.07" rx="4.2" ry="3.8" fill="none" stroke="#000" stroke-width="1.15"/>
<ellipse cx="1340.68" cy="422.55" rx="4.2" ry="3.8" fill="none" stroke="#000" stroke-width="1.15"/>
<ellipse cx="1341.27" cy="422.04" rx="4.2" ry="3.8" fill="none" stroke="#000" stroke-width="1.15"/>
<ellipse cx="1343.93" cy="419.71" rx="4.2" ry="3.8" fill="none" stroke="#000" stroke-width="1.15"/>
<ellipse cx="1345.7" cy="418.16" rx="4.2" ry="3.8" fill="none" stroke="#000" stroke-width="1.15"/>
<ellipse cx="1346.29" cy="417.64" rx="4.2" ry="3.8" fill="none" stroke="#000" stroke-width="1.15"/>
<ellipse cx="1346.88" cy="417.13" rx="4.2" ry="3.8" fill="none" stroke="#000" stroke-width="1.15"/>
<ellipse cx="1347.47" cy="416.61" rx="4.2" ry="3.8" fill="none" stroke="#000" stroke-width="1.15"/>
<ellipse cx="1348.06" cy="416.09" rx="4.2" ry="3.8" fill="none" stroke="#000" stroke-width="1.15"/>
<ellipse cx="1348.65" cy="415.58" rx="4.2" ry="3.8" fill="none" stroke="#000" stroke-width="1.15"/>
<ellipse cx="1349.24" cy="415.06" rx="4.2" ry="3.8" fill="none" stroke="#000" stroke-width="1.15"/>
<ellipse cx="1349.84" cy="414.54" rx="4.2" ry="3.8" fill="none" stroke="#000" stroke-width="1.15"/>
<ellipse cx="1350.43" cy="414.03" rx="4.2" ry="3.8" fill="none" stroke="#000" stroke-width="1.15"/>
<ellipse cx="1351.02" cy="413.51" rx="4.2" ry="3.8" fill="none" stroke="#000" stroke-width="1.15"/>
<ellipse cx="1351.61" cy="412.99" rx="4.2" ry="3.8" fill="none" stroke="#000" stroke-width="1.15"/>
<ellipse cx="1352.2" cy="412.48" rx="4.2" ry="3.8" fill="none" stroke="#000" stroke-width="1.15"/>
<ellipse cx="1352.79" cy="411.96" rx="4.2" ry="3.8" fill="none" stroke="#000" stroke-width="1.15"/>
<ellipse cx="1353.38" cy="411.44" rx="4.2" ry="3.8" fill="none" stroke="#000" stroke-width="1.15"/>
<ellipse cx="1353.97" cy="410.93" rx="4.2" ry="3.8" fill="none" stroke="#000" stroke-width="1.15"/>
<ellipse cx="1354.56" cy="410.41" rx="4.2" ry="3.8" fill="none" stroke="#000" stroke-width="1.15"/>
<ellipse cx="1355.15" cy="409.89" rx="4.2" ry="3.8" fill="none" stroke="#000" stroke-width="1.15"/>
<ellipse cx="1355.74" cy="409.38" rx="4.2" ry="3.8" fill="none" stroke="#000" stroke-width="1.15"/>
<ellipse cx="1356.33" cy="408.86" rx="4.2" ry="3.8" fill="none" stroke="#000" stroke-width="1.15"/>
<ellipse cx="1356.92" cy="408.34" rx="4.2" ry="3.8" fill="none" stroke="#000" stroke-width="1.15"/>
<ellipse cx="1357.51" cy="407.82" rx="4.2" ry="3.8" fill="none" stroke="#000" stroke-width="1.15"/>
<ellipse cx="1358.1" cy="407.31" rx="4.2" ry="3.8" fill="none" stroke="#000" stroke-width="1.15"/>
<ellipse cx="1358.69" cy="406.79" rx="4.2" ry="3.8" fill="none" stroke="#000" stroke-width="1.15"/>
<ellipse cx="1359.28" cy="406.27" rx="4.2" ry="3.8" fill="none" stroke="#000" stroke-width="1.15"/>
<ellipse cx="1359.87" cy="405.76" rx="4.2" ry="3.8" fill="none" stroke="#000" stroke-width="1.15"/>
<ellipse cx="1360.46" cy="405.24" rx="4.2" ry="3.8" fill="none" stroke="#000" stroke-width="1.15"/>
<ellipse cx="1360.46" cy="405.24" rx="4.2" ry="3.8" fill="none" stroke="#000" stroke-width="1.15"/>
<ellipse cx="1362.53" cy="403.43" rx="4.2" ry="3.8" fill="none" stroke="#000" stroke-width="1.15"/>
<ellipse cx="1363.12" cy="402.91" rx="4.2" ry="3.8" fill="none" stroke="#000" stroke-width="1.15"/>
<ellipse cx="1363.71" cy="402.4" rx="4.2" ry="3.8" fill="none" stroke="#000" stroke-width="1.15"/>
<ellipse cx="1364.3" cy="401.88" rx="4.2" ry="3.8" fill="none" stroke="#000" stroke-width="1.15"/>
<ellipse cx="1364.89" cy="401.36" rx="4.2" ry="3.8" fill="none" stroke="#000" stroke-width="1.15"/>
<ellipse cx="1365.48" cy="400.85" rx="4.2" ry="3.8" fill="none" stroke="#000" stroke-width="1.15"/>
<ellipse cx="1366.07" cy="400.33" rx="4.2" ry="3.8" fill="none" stroke="#000" stroke-width="1.15"/>
<ellipse cx="1366.66" cy="399.81" rx="4.2" ry="3.8" fill="none" stroke="#000" stroke-width="1.15"/>
<ellipse cx="1367.25" cy="399.3" rx="4.2" ry="3.8" fill="none" stroke="#000" stroke-width="1.15"/>
<ellipse cx="1367.84" cy="398.78" rx="4.2" ry="3.8" fill="none" stroke="#000" stroke-width="1.15"/>
<ellipse cx="1368.43" cy="398.26" rx="4.2" ry="3.8" fill="none" stroke="#000" stroke-width="1.15"/>
<ellipse cx="1369.02" cy="397.75" rx="4.2" ry="3.8" fill="none" stroke="#000" stroke-width="1.15"/>
<ellipse cx="1369.61" cy="397.23" rx="4.2" ry="3.8" fill="none" stroke="#000" stroke-width="1.15"/>
<ellipse cx="1370.2" cy="396.71" rx="4.2" ry="3.8" fill="none" stroke="#000" stroke-width="1.15"/>
<ellipse cx="1370.8" cy="396.2" rx="4.2" ry="3.8" fill="none" stroke="#000" stroke-width="1.15"/>
<ellipse cx="1370.8" cy="396.2" rx="4.2" ry="3.8" fill="none" stroke="#000" stroke-width="1.15"/>
<ellipse cx="1373.45" cy="393.87" rx="4.2" ry="3.8" fill="none" stroke="#000" stroke-width="1.15"/>
<ellipse cx="1376.11" cy="391.54" rx="4.2" ry="3.8" fill="none" stroke="#000" stroke-width="1.15"/>
<ellipse cx="1378.77" cy="389.22" rx="4.2" ry="3.8" fill="none" stroke="#000" stroke-width="1.15"/>
<ellipse cx="1381.42" cy="386.89" rx="4.2" ry="3.8" fill="none" stroke="#000" stroke-width="1.15"/>
<ellipse cx="1384.08" cy="384.57" rx="4.2" ry="3.8" fill="none" stroke="#000" stroke-width="1.15"/>
<ellipse cx="1386.74" cy="382.24" rx="4.2" ry="3.8" fill="none" stroke="#000" stroke-width="1.15"/>
<ellipse cx="1389.39" cy="379.92" rx="4.2" ry="3.8" fill="none" stroke="#000" stroke-width="1.15"/>
<ellipse cx="1392.05" cy="377.59" rx="4.2" ry="3.8" fill="none" stroke="#000" stroke-width="1.15"/>
<ellipse cx="1394.71" cy="375.26" rx="4.2" ry="3.8" fill="none" stroke="#000" stroke-width="1.15"/>
<ellipse cx="1397.36" cy="372.94" rx="4.2" ry="3.8" fill="none" stroke="#000" stroke-width="1.15"/>
<ellipse cx="1400.02" cy="370.61" rx="4.2" ry="3.8" fill="none" stroke="#000" stroke-width="1.15"/>
<ellipse cx="1402.68" cy="368.29" rx="4.2" ry="3.8" fill="none" stroke="#000" stroke-width="1.15"/>
<ellipse cx="1405.33" cy="365.96" rx="4.2" ry="3.8" fill="none" stroke="#000" stroke-width="1.15"/>
<ellipse cx="1407.99" cy="363.64" rx="4.2" ry="3.8" fill="none" stroke="#000" stroke-width="1.15"/>
<ellipse cx="1410.65" cy="361.31" rx="4.2" ry="3.8" fill="none" stroke="#000" stroke-width="1.15"/>
<ellipse cx="1413.31" cy="358.99" rx="4.2" ry="3.8" fill="none" stroke="#000" stroke-width="1.15"/>
<ellipse cx="1415.96" cy="356.66" rx="4.2" ry="3.8" fill="none" stroke="#000" stroke-width="1.15"/>
<ellipse cx="1419.8" cy="353.3" rx="4.2" ry="3.8" fill="none" stroke="#000" stroke-width="1.15"/>
</g>
<rect x="1167.1" y="353.3" width="252.7" height="221.2" fill="none" stroke="#7f7f7f" stroke-width="1"/>
<line x1="1226.14" y1="574.5" x2="1226.14" y2="571.9" stroke="#777" stroke-width="1"/>
<line x1="1226.14" y1="353.3" x2="1226.14" y2="355.9" stroke="#777" stroke-width="1"/>
<text transform="translate(1222.3,592.28) scale(1.15,1)" font-size="12" font-weight="normal" fill="#262626">0</text>
<line x1="1285.18" y1="574.5" x2="1285.18" y2="571.9" stroke="#777" stroke-width="1"/>
<line x1="1285.18" y1="353.3" x2="1285.18" y2="355.9" stroke="#777" stroke-width="1"/>
<text transform="translate(1281.35,592.28) scale(1.15,1)" font-size="12" font-weight="normal" fill="#262626">2</text>
<line x1="1344.23" y1="574.5" x2="1344.23" y2="571.9" stroke="#777" stroke-width="1"/>
<line x1="1344.23" y1="353.3" x2="1344.23" y2="355.9" stroke="#777" stroke-width="1"/>
<text transform="translate(1340.43,592.28) scale(1.15,1)" font-size="12" font-weight="normal" fill="#262626">4</text>
<line x1="1403.27" y1="574.5" x2="1403.27" y2="571.9" stroke="#777" stroke-width="1"/>
<line x1="1403.27" y1="353.3" x2="1403.27" y2="355.9" stroke="#777" stroke-width="1"/>
<text transform="translate(1399.39,592.28) scale(1.15,1)" font-size="12" font-weight="normal" fill="#262626">6</text>
<line x1="1167.1" y1="548.66" x2="1169.7" y2="548.66" stroke="#777" stroke-width="1"/>
<line x1="1419.8" y1="548.66" x2="1417.2" y2="548.66" stroke="#777" stroke-width="1"/>
<text transform="translate(1148.71,553.34) scale(1.15,1)" font-size="12" font-weight="normal" fill="#262626">-1</text>
<line x1="1167.1" y1="522.82" x2="1169.7" y2="522.82" stroke="#777" stroke-width="1"/>
<line x1="1419.8" y1="522.82" x2="1417.2" y2="522.82" stroke="#777" stroke-width="1"/>
<text transform="translate(1153.16,527.5) scale(1.15,1)" font-size="12" font-weight="normal" fill="#262626">0</text>
<line x1="1167.1" y1="496.98" x2="1169.7" y2="496.98" stroke="#777" stroke-width="1"/>
<line x1="1419.8" y1="496.98" x2="1417.2" y2="496.98" stroke="#777" stroke-width="1"/>
<text transform="translate(1153.3,501.66) scale(1.15,1)" font-size="12" font-weight="normal" fill="#262626">1</text>
<line x1="1167.1" y1="471.14" x2="1169.7" y2="471.14" stroke="#777" stroke-width="1"/>
<line x1="1419.8" y1="471.14" x2="1417.2" y2="471.14" stroke="#777" stroke-width="1"/>
<text transform="translate(1153.33,475.82) scale(1.15,1)" font-size="12" font-weight="normal" fill="#262626">2</text>
<line x1="1167.1" y1="445.29" x2="1169.7" y2="445.29" stroke="#777" stroke-width="1"/>
<line x1="1419.8" y1="445.29" x2="1417.2" y2="445.29" stroke="#777" stroke-width="1"/>
<text transform="translate(1153.23,449.98) scale(1.15,1)" font-size="12" font-weight="normal" fill="#262626">3</text>
<line x1="1167.1" y1="419.45" x2="1169.7" y2="419.45" stroke="#777" stroke-width="1"/>
<line x1="1419.8" y1="419.45" x2="1417.2" y2="419.45" stroke="#777" stroke-width="1"/>
<text transform="translate(1153.02,424.14) scale(1.15,1)" font-size="12" font-weight="normal" fill="#262626">4</text>
<line x1="1167.1" y1="393.61" x2="1169.7" y2="393.61" stroke="#777" stroke-width="1"/>
<line x1="1419.8" y1="393.61" x2="1417.2" y2="393.61" stroke="#777" stroke-width="1"/>
<text transform="translate(1153.19,398.3) scale(1.15,1)" font-size="12" font-weight="normal" fill="#262626">5</text>
<line x1="1167.1" y1="367.77" x2="1169.7" y2="367.77" stroke="#777" stroke-width="1"/>
<line x1="1419.8" y1="367.77" x2="1417.2" y2="367.77" stroke="#777" stroke-width="1"/>
<text transform="translate(1153.23,372.46) scale(1.15,1)" font-size="12" font-weight="normal" fill="#262626">6</text>
<text transform="translate(1261.28,346.4) scale(1.06,1)" font-size="15.71" font-weight="bold" fill="#000">All: R=1</text>
<text transform="translate(1267.93,612.9) scale(1.1,1)" font-size="15.71" font-weight="bold" fill="#1a1a1a">Target</text>
<text transform="translate(1139.8,570.41) rotate(-90) scale(1,1.22)" font-size="15.17" font-weight="bold" fill="#1a1a1a">Output ~= 1*Target + -0.00018</text>
<rect x="1181.2" y="365.9" width="87.1" height="49.9" fill="#fff" stroke="#7f7f7f" stroke-width="1"/>
<ellipse cx="1207" cy="375.8" rx="4.4" ry="3.8" fill="none" stroke="#222" stroke-width="1"/>
<line x1="1185.6" y1="391.2" x2="1228.7" y2="391.2" stroke="#606060" stroke-width="2.7"/>
<line x1="1185.6" y1="406.8" x2="1225.8" y2="406.8" stroke="#666" stroke-width="1" stroke-dasharray="1.3 3.1"/>
<text transform="translate(1231.44,380.4) scale(1.09,1)" font-size="11.78" font-weight="normal" fill="#262626">Data</text>
<text transform="translate(1231.43,395.8) scale(1.11,1)" font-size="11.64" font-weight="normal" fill="#262626">Fit</text>
<text transform="translate(1232.21,411.4) scale(1.08,1)" font-size="12.07" font-weight="normal" fill="#262626">Y = T</text>
</svg>
</body></html>
